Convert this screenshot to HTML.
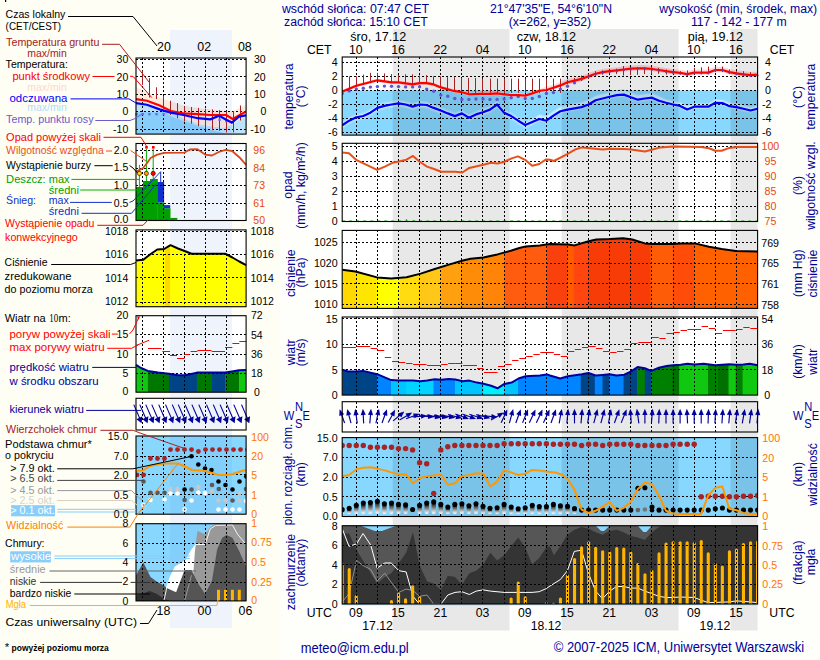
<!DOCTYPE html>
<html><head><meta charset="utf-8"><title>Meteogram</title>
<style>
html,body{margin:0;padding:0;background:#FEFEF4;}
svg{display:block;font-family:"Liberation Sans",sans-serif;}
</style></head><body>
<svg width="820" height="660" viewBox="0 0 820 660">
<rect width="820" height="660" fill="#FEFEF4"/>
<defs>
<clipPath id="cf0"><rect x="342.2" y="57.0" width="415.4" height="78.1"/></clipPath>
<clipPath id="cf1"><rect x="342.2" y="143.3" width="415.4" height="78.2"/></clipPath>
<clipPath id="cf2"><rect x="342.2" y="230.4" width="415.4" height="78.0"/></clipPath>
<clipPath id="cf3"><rect x="342.2" y="317.0" width="415.4" height="78.1"/></clipPath>
<clipPath id="cf4"><rect x="342.2" y="401.7" width="415.4" height="30.3"/></clipPath>
<clipPath id="cf5"><rect x="342.2" y="437.6" width="415.4" height="78.9"/></clipPath>
<clipPath id="cf6"><rect x="342.2" y="525.7" width="415.4" height="78.3"/></clipPath>
<linearGradient id="cbg" x1="0" y1="0" x2="0" y2="1"><stop offset="0" stop-color="#000"/><stop offset="0.35" stop-color="#555"/><stop offset="0.7" stop-color="#bbb"/><stop offset="1" stop-color="#fff"/></linearGradient>
</defs>
<rect x="280" y="0" width="540" height="660" fill="#FEFEFB"/>
<rect x="342.2" y="29" width="415.4" height="601.6" fill="#fff"/>
<rect x="342.2" y="90.4" width="415.4" height="44.7" fill="#87D7FF"/>
<rect x="342.2" y="437.6" width="415.4" height="78.9" fill="#87D7FF"/>
<polygon points="342.2,121.7 349.2,117.1 356.3,113.7 363.3,112.4 370.4,109.1 377.4,104.3 384.4,102.3 391.5,100.9 398.5,99.7 405.6,100.9 412.6,103.0 419.6,100.9 426.7,101.4 433.7,104.3 440.8,106.9 447.8,109.8 454.8,112.5 461.9,109.8 468.9,114.2 476.0,110.8 483.0,108.6 490.0,106.0 497.1,100.9 504.1,109.1 511.2,112.5 518.2,117.1 525.2,121.4 532.3,118.3 539.3,114.0 546.4,115.7 553.4,110.6 560.4,106.3 567.5,104.6 574.5,103.3 581.6,102.1 588.6,99.5 595.6,95.2 602.7,93.5 609.7,91.8 616.8,90.1 623.8,89.6 630.8,92.3 637.9,94.7 644.9,93.5 652.0,92.7 659.0,95.8 666.0,99.0 673.1,100.7 680.1,102.1 687.2,105.8 694.2,102.9 701.2,102.9 708.3,102.9 715.3,99.0 722.4,99.3 729.4,102.4 736.4,103.3 743.5,105.0 750.5,106.7 757.6,105.0 757.6,111.2 750.5,112.9 743.5,111.2 736.4,109.5 729.4,108.6 722.4,105.5 715.3,105.2 708.3,109.1 701.2,109.1 694.2,109.1 687.2,112.0 680.1,108.3 673.1,106.9 666.0,105.2 659.0,103.2 652.0,100.1 644.9,100.9 637.9,102.1 630.8,99.7 623.8,97.0 616.8,97.5 609.7,99.2 602.7,100.9 595.6,102.6 588.6,106.9 581.6,109.5 574.5,110.7 567.5,112.0 560.4,113.7 553.4,118.0 546.4,123.1 539.3,121.4 532.3,125.5 525.2,128.6 518.2,124.3 511.2,119.7 504.1,116.3 497.1,108.1 490.0,113.2 483.0,115.8 476.0,118.0 468.9,121.4 461.9,117.0 454.8,119.7 447.8,117.0 440.8,114.1 433.7,111.5 426.7,108.6 419.6,108.1 412.6,110.2 405.6,108.1 398.5,106.9 391.5,108.1 384.4,109.5 377.4,111.5 370.4,116.3 363.3,119.6 356.3,120.9 349.2,124.3 342.2,128.9" fill="#A6E0FE" clip-path="url(#cf0)"/>
<polygon points="342.2,123.1 349.2,118.5 356.3,115.1 363.3,113.8 370.4,110.5 377.4,105.7 384.4,103.7 391.5,102.3 398.5,101.1 405.6,102.3 412.6,104.4 419.6,102.3 426.7,102.8 433.7,105.7 440.8,108.3 447.8,111.2 454.8,113.9 461.9,111.2 468.9,115.6 476.0,112.2 483.0,110.0 490.0,107.4 497.1,102.3 504.1,110.5 511.2,113.9 518.2,118.5 525.2,122.8 532.3,119.7 539.3,115.0 546.4,116.7 553.4,111.6 560.4,107.3 567.5,105.6 574.5,104.3 581.6,103.1 588.6,100.5 595.6,96.2 602.7,94.5 609.7,92.8 616.8,91.1 623.8,90.6 630.8,93.3 637.9,95.7 644.9,94.5 652.0,93.7 659.0,96.8 666.0,100.0 673.1,101.7 680.1,103.1 687.2,106.8 694.2,103.9 701.2,103.9 708.3,103.9 715.3,100.0 722.4,100.3 729.4,103.4 736.4,104.3 743.5,106.0 750.5,107.7 757.6,106.0 757.6,110.4 750.5,112.1 743.5,110.4 736.4,108.7 729.4,107.8 722.4,104.7 715.3,104.4 708.3,108.3 701.2,108.3 694.2,108.3 687.2,111.2 680.1,107.5 673.1,106.1 666.0,104.4 659.0,102.4 652.0,99.3 644.9,100.1 637.9,101.3 630.8,98.9 623.8,96.2 616.8,96.7 609.7,98.4 602.7,100.1 595.6,101.8 588.6,106.1 581.6,108.7 574.5,109.9 567.5,111.2 560.4,112.9 553.4,117.2 546.4,122.3 539.3,120.6 532.3,124.1 525.2,127.2 518.2,122.9 511.2,118.3 504.1,114.9 497.1,106.7 490.0,111.8 483.0,114.4 476.0,116.6 468.9,120.0 461.9,115.6 454.8,118.3 447.8,115.6 440.8,112.7 433.7,110.1 426.7,107.2 419.6,106.7 412.6,108.8 405.6,106.7 398.5,105.5 391.5,106.7 384.4,108.1 377.4,110.1 370.4,114.9 363.3,118.2 356.3,119.5 349.2,122.9 342.2,127.5" fill="#C6ECFF" clip-path="url(#cf0)"/>
<polygon points="342.2,90.1 356.3,84.1 377.4,78.7 391.5,80.7 398.5,80.7 412.6,82.8 419.6,81.6 426.7,81.6 433.7,82.8 440.8,85.8 454.8,89.6 461.9,90.6 468.9,92.7 480.2,92.3 483.0,92.3 490.0,92.3 497.1,91.8 504.1,92.7 511.2,93.5 518.2,93.5 525.2,94.0 532.3,91.8 539.3,89.3 546.4,86.8 553.4,84.6 560.4,82.2 567.5,79.1 574.5,77.4 581.6,75.7 588.6,73.1 595.6,70.6 602.7,68.9 609.7,68.0 616.8,67.2 623.8,66.3 630.8,65.5 637.9,65.1 644.9,65.1 652.0,65.8 659.0,66.8 666.0,68.0 673.1,68.9 680.1,69.7 687.2,70.9 694.2,69.4 701.2,69.4 708.3,69.4 715.3,66.8 722.4,66.8 729.4,68.9 736.4,70.2 743.5,71.1 750.5,71.9 757.6,71.4 757.6,76.8 750.5,77.3 743.5,76.5 736.4,75.6 729.4,74.3 722.4,72.2 715.3,72.2 708.3,74.8 701.2,74.8 694.2,74.8 687.2,76.3 680.1,75.1 673.1,74.3 666.0,73.4 659.0,72.2 652.0,71.2 644.9,70.5 637.9,70.5 630.8,70.9 623.8,71.7 616.8,72.6 609.7,73.4 602.7,74.3 595.6,76.0 588.6,78.5 581.6,81.1 574.5,82.8 567.5,84.5 560.4,87.6 553.4,90.0 546.4,92.2 539.3,92.5 532.3,95.0 525.2,97.2 518.2,96.7 511.2,96.7 504.1,95.9 497.1,95.0 490.0,95.5 483.0,95.5 480.2,95.5 468.9,95.9 461.9,93.8 454.8,92.8 440.8,89.0 433.7,86.0 426.7,84.8 419.6,84.8 412.6,86.0 398.5,83.9 391.5,83.9 377.4,81.9 356.3,87.3 342.2,93.3" fill="#FFD9D9" clip-path="url(#cf0)"/>
<rect x="392.7" y="29" width="116.9" height="601.6" fill="#000" fill-opacity="0.092"/>
<rect x="561.6" y="29" width="117.0" height="601.6" fill="#000" fill-opacity="0.092"/>
<rect x="730.6" y="29" width="27.0" height="601.6" fill="#000" fill-opacity="0.092"/>
<clipPath id="cpres"><polygon points="342.2,269.7 355.4,271.5 377.1,277.4 391.2,278.4 406.6,277.2 420.7,273.6 434.8,269.0 448.9,264.6 462.9,260.5 470.6,258.7 483.4,257.4 497.5,254.4 511.6,250.5 519.3,248.0 525.7,246.4 539.7,245.4 549.9,244.1 568.0,244.6 574.5,245.4 588.6,241.3 596.3,239.5 610.4,239.0 623.1,238.2 632.2,239.5 644.9,243.4 652.7,244.1 673.1,243.9 680.8,243.4 694.9,243.4 709.0,246.7 721.7,249.0 735.7,251.0 757.6,251.6 757.6,308.4 342.2,308.4"/></clipPath>
<g clip-path="url(#cpres)">
<rect x="342.2" y="230.4" width="15.7" height="77.99999999999997" fill="#FFD800"/>
<rect x="357.4" y="230.4" width="19.7" height="77.99999999999997" fill="#FFE600"/>
<rect x="376.6" y="230.4" width="23.5" height="77.99999999999997" fill="#FFFF00"/>
<rect x="399.6" y="230.4" width="19.7" height="77.99999999999997" fill="#FFDC10"/>
<rect x="418.8" y="230.4" width="22.3" height="77.99999999999997" fill="#FFC818"/>
<rect x="440.6" y="230.4" width="20.9" height="77.99999999999997" fill="#FFA010"/>
<rect x="461.0" y="230.4" width="22.5" height="77.99999999999997" fill="#FF8C08"/>
<rect x="483.0" y="230.4" width="22.1" height="77.99999999999997" fill="#FF8408"/>
<rect x="504.6" y="230.4" width="42.9" height="77.99999999999997" fill="#FF5C10"/>
<rect x="547.0" y="230.4" width="20.9" height="77.99999999999997" fill="#FA400C"/>
<rect x="567.4" y="230.4" width="6.9" height="77.99999999999997" fill="#FF5C00"/>
<rect x="573.8" y="230.4" width="14.6" height="77.99999999999997" fill="#FF4610"/>
<rect x="587.9" y="230.4" width="63.2" height="77.99999999999997" fill="#F83C08"/>
<rect x="650.6" y="230.4" width="22.3" height="77.99999999999997" fill="#FF5C08"/>
<rect x="672.4" y="230.4" width="22.1" height="77.99999999999997" fill="#FF4C08"/>
<rect x="694.0" y="230.4" width="64.1" height="77.99999999999997" fill="#FF6000"/>
</g>
<clipPath id="cwind"><polygon points="342.2,369.8 349.0,371.6 356.6,371.6 363.0,370.9 377.1,374.2 391.2,380.1 398.9,380.6 413.0,380.6 420.7,381.3 427.1,380.6 434.8,379.3 441.2,379.8 448.8,379.0 455.2,379.6 462.9,381.3 469.3,380.6 477.0,382.6 483.4,383.7 491.1,385.7 497.5,388.3 504.4,383.9 511.6,382.6 518.5,378.5 525.7,376.2 539.8,375.5 546.9,374.4 550.0,375.5 560.3,378.5 567.9,376.2 582.0,374.2 588.4,372.9 595.6,375.5 602.5,374.9 609.4,374.2 616.6,375.5 624.3,374.7 630.7,371.6 637.6,367.0 644.8,368.3 651.2,370.9 658.9,367.8 666.5,366.0 672.9,365.2 680.6,364.7 687.5,363.7 694.7,364.4 703.7,363.7 715.2,365.2 729.3,364.2 735.7,364.7 743.4,364.4 749.8,363.7 757.7,365.2 757.6,395.1 342.2,395.1"/></clipPath>
<g clip-path="url(#cwind)">
<rect x="342.2" y="317.0" width="35.4" height="78.10000000000002" fill="#004488"/>
<rect x="377.1" y="317.0" width="14.6" height="78.10000000000002" fill="#0084FF"/>
<rect x="391.2" y="317.0" width="15.3" height="78.10000000000002" fill="#00C4FF"/>
<rect x="406.0" y="317.0" width="28.0" height="78.10000000000002" fill="#00D4FF"/>
<rect x="433.5" y="317.0" width="22.2" height="78.10000000000002" fill="#0084FF"/>
<rect x="455.2" y="317.0" width="28.7" height="78.10000000000002" fill="#00C4FF"/>
<rect x="483.4" y="317.0" width="21.0" height="78.10000000000002" fill="#00F0FF"/>
<rect x="503.9" y="317.0" width="14.6" height="78.10000000000002" fill="#00C4FF"/>
<rect x="518.0" y="317.0" width="63.2" height="78.10000000000002" fill="#0084FF"/>
<rect x="580.7" y="317.0" width="14.6" height="78.10000000000002" fill="#004488"/>
<rect x="594.8" y="317.0" width="8.2" height="78.10000000000002" fill="#0084FF"/>
<rect x="602.5" y="317.0" width="7.4" height="78.10000000000002" fill="#004488"/>
<rect x="609.4" y="317.0" width="14.6" height="78.10000000000002" fill="#0084FF"/>
<rect x="623.5" y="317.0" width="14.1" height="78.10000000000002" fill="#004488"/>
<rect x="637.1" y="317.0" width="8.2" height="78.10000000000002" fill="#008000"/>
<rect x="644.8" y="317.0" width="6.9" height="78.10000000000002" fill="#004488"/>
<rect x="651.2" y="317.0" width="21.3" height="78.10000000000002" fill="#008000"/>
<rect x="672.0" y="317.0" width="7.8" height="78.10000000000002" fill="#007000"/>
<rect x="679.3" y="317.0" width="29.2" height="78.10000000000002" fill="#10C810"/>
<rect x="708.0" y="317.0" width="10.5" height="78.10000000000002" fill="#008000"/>
<rect x="718.0" y="317.0" width="11.0" height="78.10000000000002" fill="#007000"/>
<rect x="728.5" y="317.0" width="7.7" height="78.10000000000002" fill="#10C810"/>
<rect x="735.7" y="317.0" width="7.4" height="78.10000000000002" fill="#008000"/>
<rect x="742.6" y="317.0" width="15.5" height="78.10000000000002" fill="#10C810"/>
</g>
<rect x="342.2" y="525.7" width="415.4" height="78.3" fill="#565656"/>
<polygon points="342.2,533.5 349.0,533.5 356.6,550.2 363.0,560.4 370.7,573.2 377.1,583.5 384.8,577.1 391.2,573.2 398.9,563.0 406.1,552.7 413.0,532.2 419.6,565.5 427.1,581.4 433.7,583.5 440.9,589.9 447.8,575.8 455.0,577.1 461.9,584.7 469.3,573.2 476.2,570.7 483.4,564.3 490.3,552.7 497.2,560.4 504.2,555.3 511.1,546.3 518.2,537.4 525.2,547.6 532.1,564.3 539.2,557.9 546.2,547.6 550.0,546.3 553.9,555.3 560.3,546.3 567.4,534.8 574.3,529.7 581.5,527.1 588.4,528.4 595.6,532.2 602.5,534.8 609.7,531.0 616.6,529.7 623.8,532.2 630.7,536.1 637.9,537.4 644.8,539.9 651.9,532.2 658.9,527.1 666.0,525.1 757.7,525.1 757.6,604.0 342.2,604.0" fill="#343434" clip-path="url(#cf6)"/>
<polygon points="360.8,525.7 374.9,531.1 381.9,531.1 396.0,525.7" fill="#87D7FF"/>
<polygon points="595.6,525.7 601.2,530.9 604.1,530.9 609.7,525.7" fill="#87D7FF"/>
<polygon points="637.8,525.7 643.4,532.1 646.3,532.1 651.9,525.7" fill="#87D7FF"/>
<path d="M356.5,57.0V135.1M377.5,57.0V135.1M398.5,57.0V135.1M419.5,57.0V135.1M440.5,57.0V135.1M461.5,57.0V135.1M482.5,57.0V135.1M504.5,57.0V135.1M525.5,57.0V135.1M546.5,57.0V135.1M567.5,57.0V135.1M588.5,57.0V135.1M609.5,57.0V135.1M630.5,57.0V135.1M651.5,57.0V135.1M673.5,57.0V135.1M694.5,57.0V135.1M715.5,57.0V135.1M736.5,57.0V135.1M342.2,62.5H757.6M342.2,76.5H757.6M342.2,90.5H757.6M342.2,104.5H757.6M342.2,118.5H757.6M342.2,132.5H757.6" stroke="#000" stroke-width="1" stroke-dasharray="2,2" fill="none" shape-rendering="crispEdges"/>
<path d="M356.5,143.3V221.5M377.5,143.3V221.5M398.5,143.3V221.5M419.5,143.3V221.5M440.5,143.3V221.5M461.5,143.3V221.5M482.5,143.3V221.5M504.5,143.3V221.5M525.5,143.3V221.5M546.5,143.3V221.5M567.5,143.3V221.5M588.5,143.3V221.5M609.5,143.3V221.5M630.5,143.3V221.5M651.5,143.3V221.5M673.5,143.3V221.5M694.5,143.3V221.5M715.5,143.3V221.5M736.5,143.3V221.5M342.2,146.5H757.6M342.2,161.5H757.6M342.2,176.5H757.6M342.2,191.5H757.6M342.2,206.5H757.6" stroke="#000" stroke-width="1" stroke-dasharray="2,2" fill="none" shape-rendering="crispEdges"/>
<path d="M356.5,230.4V308.4M377.5,230.4V308.4M398.5,230.4V308.4M419.5,230.4V308.4M440.5,230.4V308.4M461.5,230.4V308.4M482.5,230.4V308.4M504.5,230.4V308.4M525.5,230.4V308.4M546.5,230.4V308.4M567.5,230.4V308.4M588.5,230.4V308.4M609.5,230.4V308.4M630.5,230.4V308.4M651.5,230.4V308.4M673.5,230.4V308.4M694.5,230.4V308.4M715.5,230.4V308.4M736.5,230.4V308.4M342.2,242.5H757.6M342.2,263.5H757.6M342.2,283.5H757.6M342.2,304.5H757.6" stroke="#000" stroke-width="1" stroke-dasharray="2,2" fill="none" shape-rendering="crispEdges"/>
<path d="M356.5,317.0V395.1M377.5,317.0V395.1M398.5,317.0V395.1M419.5,317.0V395.1M440.5,317.0V395.1M461.5,317.0V395.1M482.5,317.0V395.1M504.5,317.0V395.1M525.5,317.0V395.1M546.5,317.0V395.1M567.5,317.0V395.1M588.5,317.0V395.1M609.5,317.0V395.1M630.5,317.0V395.1M651.5,317.0V395.1M673.5,317.0V395.1M694.5,317.0V395.1M715.5,317.0V395.1M736.5,317.0V395.1M342.2,318.5H757.6M342.2,344.5H757.6M342.2,369.5H757.6" stroke="#000" stroke-width="1" stroke-dasharray="2,2" fill="none" shape-rendering="crispEdges"/>
<path d="M356.5,401.7V432.0M377.5,401.7V432.0M398.5,401.7V432.0M419.5,401.7V432.0M440.5,401.7V432.0M461.5,401.7V432.0M482.5,401.7V432.0M504.5,401.7V432.0M525.5,401.7V432.0M546.5,401.7V432.0M567.5,401.7V432.0M588.5,401.7V432.0M609.5,401.7V432.0M630.5,401.7V432.0M651.5,401.7V432.0M673.5,401.7V432.0M694.5,401.7V432.0M715.5,401.7V432.0M736.5,401.7V432.0" stroke="#000" stroke-width="1" stroke-dasharray="2,2" fill="none" shape-rendering="crispEdges"/>
<path d="M356.5,437.6V516.5M377.5,437.6V516.5M398.5,437.6V516.5M419.5,437.6V516.5M440.5,437.6V516.5M461.5,437.6V516.5M482.5,437.6V516.5M504.5,437.6V516.5M525.5,437.6V516.5M546.5,437.6V516.5M567.5,437.6V516.5M588.5,437.6V516.5M609.5,437.6V516.5M630.5,437.6V516.5M651.5,437.6V516.5M673.5,437.6V516.5M694.5,437.6V516.5M715.5,437.6V516.5M736.5,437.6V516.5M342.2,457.5H757.6M342.2,477.5H757.6M342.2,496.5H757.6" stroke="#000" stroke-width="1" stroke-dasharray="2,2" fill="none" shape-rendering="crispEdges"/>
<path d="M356.5,525.7V604.0M377.5,525.7V604.0M398.5,525.7V604.0M419.5,525.7V604.0M440.5,525.7V604.0M461.5,525.7V604.0M482.5,525.7V604.0M504.5,525.7V604.0M525.5,525.7V604.0M546.5,525.7V604.0M567.5,525.7V604.0M588.5,525.7V604.0M609.5,525.7V604.0M630.5,525.7V604.0M651.5,525.7V604.0M673.5,525.7V604.0M694.5,525.7V604.0M715.5,525.7V604.0M736.5,525.7V604.0M342.2,545.5H757.6M342.2,564.5H757.6M342.2,584.5H757.6" stroke="#000" stroke-width="1" stroke-dasharray="2,2" fill="none" shape-rendering="crispEdges"/>
<path d="M349.5,76.3V91.7M356.5,76.3V87.4M363.5,74.6V84.9M370.5,72.9V83.2M377.5,72.9V80.6M384.5,73.4V81.5M391.5,74.1V82.3M398.5,75.1V82.3M405.5,74.3V83.2M412.5,74.3V84.4M419.5,75.5V83.7M426.5,75.1V83.2M433.5,76.3V84.4M440.5,76.3V87.4M447.5,77.2V89.1M454.5,77.2V91.2M461.5,78.0V92.2M468.5,78.0V93.9M475.5,78.0V93.9M567.5,79.8V84.4M574.5,78.0V83.2M581.5,75.5V81.0M588.5,73.8V78.6M595.5,71.2V76.3M602.5,70.4V74.6M609.5,69.5V73.8M616.5,68.7V74.1M623.5,66.1V75.5M630.5,67.0V75.1M637.5,67.0V74.8M644.5,67.0V74.1M651.5,67.0V73.8M658.5,67.8V73.8M666.5,69.5V74.6M673.5,70.4V74.1M680.5,71.2V74.5M687.5,70.4V75.5M694.5,67.8V74.1M701.5,67.3V74.1M708.5,66.6V73.8M715.5,66.1V72.1M722.5,66.6V72.1M729.5,69.5V74.1M736.5,71.2V75.1M743.5,71.2V75.8M750.5,72.1V76.5M482.5,78.6V92.9M490.5,78.6V92.9M497.5,78.6V92.9M504.5,78.6V92.9M511.5,78.6V92.9M518.5,78.6V92.9M525.5,78.6V92.9M532.5,78.6V92.9M539.5,78.6V92.9M546.5,78.6V92.9M553.5,78.6V92.9M560.5,78.6V92.9" stroke="#A82020" stroke-width="1" fill="none"/>
<g fill="#6254D2" clip-path="url(#cf0)">
<circle cx="342.2" cy="93.4" r="1.7"/>
<circle cx="349.2" cy="90.9" r="1.7"/>
<circle cx="356.3" cy="89.1" r="1.7"/>
<circle cx="363.3" cy="88.3" r="1.7"/>
<circle cx="370.4" cy="87.1" r="1.7"/>
<circle cx="377.4" cy="86.6" r="1.7"/>
<circle cx="384.4" cy="86.1" r="1.7"/>
<circle cx="391.5" cy="86.2" r="1.7"/>
<circle cx="398.5" cy="86.6" r="1.7"/>
<circle cx="405.6" cy="86.9" r="1.7"/>
<circle cx="412.6" cy="86.9" r="1.7"/>
<circle cx="419.6" cy="86.8" r="1.7"/>
<circle cx="426.7" cy="89.1" r="1.7"/>
<circle cx="433.7" cy="91.2" r="1.7"/>
<circle cx="440.8" cy="95.1" r="1.7"/>
<circle cx="447.8" cy="96.3" r="1.7"/>
<circle cx="454.8" cy="98.5" r="1.7"/>
<circle cx="461.9" cy="99.4" r="1.7"/>
<circle cx="468.9" cy="99.4" r="1.7"/>
<circle cx="476.0" cy="99.0" r="1.7"/>
<circle cx="483.0" cy="99.0" r="1.7"/>
<circle cx="490.0" cy="99.4" r="1.7"/>
<circle cx="497.1" cy="99.4" r="1.7"/>
<circle cx="504.1" cy="99.0" r="1.7"/>
<circle cx="511.2" cy="97.7" r="1.7"/>
<circle cx="518.2" cy="96.5" r="1.7"/>
<circle cx="525.2" cy="98.5" r="1.7"/>
<circle cx="532.3" cy="98.5" r="1.7"/>
<circle cx="539.3" cy="96.5" r="1.7"/>
<circle cx="546.4" cy="93.4" r="1.7"/>
<circle cx="553.4" cy="92.6" r="1.7"/>
<circle cx="560.4" cy="89.1" r="1.7"/>
<circle cx="567.5" cy="86.2" r="1.7"/>
<circle cx="574.5" cy="82.7" r="1.7"/>
</g>
<polyline points="342.2,91.7 356.3,85.7 377.4,80.3 391.5,82.3 398.5,82.3 412.6,84.4 419.6,83.2 426.7,83.2 433.7,84.4 440.8,87.4 454.8,91.2 461.9,92.2 468.9,94.3 480.2,93.9 483.0,93.9 490.0,93.9 497.1,93.4 504.1,94.3 511.2,95.1 518.2,95.1 525.2,95.6 532.3,93.4 539.3,90.9 546.4,90.0 553.4,87.8 560.4,85.4 567.5,82.3 574.5,80.6 581.6,78.9 588.6,76.3 595.6,73.8 602.7,72.1 609.7,71.2 616.8,70.4 623.8,69.5 630.8,68.7 637.9,68.3 644.9,68.3 652.0,69.0 659.0,70.0 666.0,71.2 673.1,72.1 680.1,72.9 687.2,74.1 694.2,72.6 701.2,72.6 708.3,72.6 715.3,70.0 722.4,70.0 729.4,72.1 736.4,73.4 743.5,74.3 750.5,75.1 757.6,74.6" stroke="#FF0000" stroke-width="2.2" fill="none" stroke-linejoin="round" clip-path="url(#cf0)"/>
<g fill="#5B3FC0">
<circle cx="581.6" cy="79.7" r="1.0"/>
<circle cx="588.6" cy="77.1" r="1.0"/>
<circle cx="595.6" cy="74.6" r="1.0"/>
<circle cx="602.7" cy="72.9" r="1.0"/>
<circle cx="609.7" cy="72.0" r="1.0"/>
<circle cx="616.8" cy="71.2" r="1.0"/>
<circle cx="623.8" cy="70.3" r="1.0"/>
<circle cx="630.8" cy="69.5" r="1.0"/>
<circle cx="637.9" cy="69.1" r="1.0"/>
<circle cx="644.9" cy="69.1" r="1.0"/>
<circle cx="652.0" cy="69.8" r="1.0"/>
<circle cx="659.0" cy="70.8" r="1.0"/>
<circle cx="666.0" cy="72.0" r="1.0"/>
<circle cx="673.1" cy="72.9" r="1.0"/>
<circle cx="680.1" cy="73.7" r="1.0"/>
<circle cx="687.2" cy="74.9" r="1.0"/>
<circle cx="694.2" cy="73.4" r="1.0"/>
<circle cx="701.2" cy="73.4" r="1.0"/>
<circle cx="708.3" cy="73.4" r="1.0"/>
<circle cx="715.3" cy="70.8" r="1.0"/>
<circle cx="722.4" cy="70.8" r="1.0"/>
<circle cx="729.4" cy="72.9" r="1.0"/>
<circle cx="736.4" cy="74.2" r="1.0"/>
<circle cx="743.5" cy="75.1" r="1.0"/>
<circle cx="750.5" cy="75.9" r="1.0"/>
<circle cx="757.6" cy="75.4" r="1.0"/>
</g>
<polyline points="342.2,125.3 349.2,120.7 356.3,117.3 363.3,116.0 370.4,112.7 377.4,107.9 384.4,105.9 391.5,104.5 398.5,103.3 405.6,104.5 412.6,106.6 419.6,104.5 426.7,105.0 433.7,107.9 440.8,110.5 447.8,113.4 454.8,116.1 461.9,113.4 468.9,117.8 476.0,114.4 483.0,112.2 490.0,109.6 497.1,104.5 504.1,112.7 511.2,116.1 518.2,120.7 525.2,125.0 532.3,121.9 539.3,119.0 546.4,120.7 553.4,115.6 560.4,111.3 567.5,109.6 574.5,108.3 581.6,107.1 588.6,104.5 595.6,100.2 602.7,98.5 609.7,96.8 616.8,95.1 623.8,94.6 630.8,97.3 637.9,99.7 644.9,98.5 652.0,97.7 659.0,100.8 666.0,102.8 673.1,104.5 680.1,105.9 687.2,109.6 694.2,106.7 701.2,106.7 708.3,106.7 715.3,102.8 722.4,103.1 729.4,106.2 736.4,107.1 743.5,108.8 750.5,110.5 757.6,108.8" stroke="#0000FF" stroke-width="2.2" fill="none" stroke-linejoin="round" clip-path="url(#cf0)"/>
<polyline points="342.6,152.5 349.0,153.3 356.6,160.2 377.1,169.9 384.8,166.6 392.5,162.8 398.9,161.5 406.5,159.7 413.0,155.9 419.4,161.5 427.0,166.6 433.4,168.7 441.2,171.7 455.3,171.7 462.4,172.5 469.3,167.9 483.4,164.8 491.1,162.8 497.5,163.5 503.9,162.0 511.6,158.4 518.0,156.4 525.7,160.2 532.1,165.8 539.2,164.0 546.1,159.4 550.0,159.7 553.9,161.0 566.8,154.3 575.9,149.2 582.3,147.4 602.7,149.5 610.4,148.7 624.5,148.9 630.8,149.5 644.9,151.5 652.7,149.5 660.4,147.4 673.1,146.6 701.2,146.9 709.0,148.2 715.3,150.7 721.7,150.7 729.4,147.9 737.1,147.1 757.6,147.1" stroke="#E8501A" stroke-width="2" fill="none" stroke-linejoin="round" clip-path="url(#cf1)"/>
<path d="M342.2,220.9H757.6" stroke="#0A0" stroke-width="0.8" stroke-dasharray="3,4" fill="none"/>
<path d="M406.5,221.5v-2.5M414,221.5v-1.5" stroke="#0A0" stroke-width="0.8" fill="none"/>
<polyline points="342.2,269.7 355.4,271.5 377.1,277.4 391.2,278.4 406.6,277.2 420.7,273.6 434.8,269.0 448.9,264.6 462.9,260.5 470.6,258.7 483.4,257.4 497.5,254.4 511.6,250.5 519.3,248.0 525.7,246.4 539.7,245.4 549.9,244.1 568.0,244.6 574.5,245.4 588.6,241.3 596.3,239.5 610.4,239.0 623.1,238.2 632.2,239.5 644.9,243.4 652.7,244.1 673.1,243.9 680.8,243.4 694.9,243.4 709.0,246.7 721.7,249.0 735.7,251.0 757.6,251.6" stroke="#000" stroke-width="2" fill="none" stroke-linejoin="round" clip-path="url(#cf2)"/>
<path d="M342.6,347.5H355.9M356.6,346.5H370.2M370.7,348.5H377.1M377.6,350.5H384.3M384.8,357.5H391.2M392.0,361.5H398.4M398.9,362.5H405.3M406.1,363.5H412.5M413.0,364.5H426.6M427.1,365.5H441.2M441.2,364.5H447.6M448.1,363.5H455.2M455.2,363.5H462.4M462.9,365.5H477.0M477.0,368.5H483.4M483.9,372.5H497.5M498.0,366.5H504.4M505.2,364.5H511.6M512.1,360.5H518.5M519.3,358.5H525.7M526.2,356.5H532.6M533.3,354.5H539.7M540.3,352.5H550.0M550.0,352.5H553.8M553.8,354.5H560.2M560.8,356.5H567.4M567.9,351.5H574.3M574.8,349.5H581.2M582.0,347.5H588.4M588.9,346.5H595.6M596.1,348.5H602.5M603.0,351.5H609.4M610.2,352.5H616.6M617.1,351.5H623.5M624.3,349.5H630.7M631.2,343.5H637.6M638.3,342.5H651.2M651.7,337.5H658.8M659.3,338.5H665.7M666.5,333.5H672.9M673.4,332.5H679.8M680.6,330.5H687.0M687.5,329.5H701.1M701.6,326.5H708.0M708.8,328.5H715.2M715.7,333.5H722.1M722.9,330.5H735.7M736.2,329.5H742.6M743.3,327.5H749.7M750.3,328.5H757.4" stroke="#FF0000" stroke-width="1" fill="none" clip-path="url(#cf3)"/>
<polyline points="342.2,369.8 349.0,371.6 356.6,371.6 363.0,370.9 377.1,374.2 391.2,380.1 398.9,380.6 413.0,380.6 420.7,381.3 427.1,380.6 434.8,379.3 441.2,379.8 448.8,379.0 455.2,379.6 462.9,381.3 469.3,380.6 477.0,382.6 483.4,383.7 491.1,385.7 497.5,388.3 504.4,383.9 511.6,382.6 518.5,378.5 525.7,376.2 539.8,375.5 546.9,374.4 550.0,375.5 560.3,378.5 567.9,376.2 582.0,374.2 588.4,372.9 595.6,375.5 602.5,374.9 609.4,374.2 616.6,375.5 624.3,374.7 630.7,371.6 637.6,367.0 644.8,368.3 651.2,370.9 658.9,367.8 666.5,366.0 672.9,365.2 680.6,364.7 687.5,363.7 694.7,364.4 703.7,363.7 715.2,365.2 729.3,364.2 735.7,364.7 743.4,364.4 749.8,363.7 757.7,365.2" stroke="#00009C" stroke-width="2" fill="none" stroke-linejoin="round" clip-path="url(#cf3)"/>
<g fill="#00009C" stroke="#00009C">
<g transform="translate(342.2,416.4) rotate(-20)"><path d="M0,7V-2.5" stroke-width="1.15" fill="none"/><path d="M0,-7.6L2.6,-1.4L-2.6,-1.4Z" stroke="none"/></g>
<g transform="translate(349.2,416.4) rotate(-15)"><path d="M0,7V-2.5" stroke-width="1.15" fill="none"/><path d="M0,-7.6L2.6,-1.4L-2.6,-1.4Z" stroke="none"/></g>
<g transform="translate(356.3,416.4) rotate(-8)"><path d="M0,7V-2.5" stroke-width="1.15" fill="none"/><path d="M0,-7.6L2.6,-1.4L-2.6,-1.4Z" stroke="none"/></g>
<g transform="translate(363.3,416.4) rotate(-3)"><path d="M0,7V-2.5" stroke-width="1.15" fill="none"/><path d="M0,-7.6L2.6,-1.4L-2.6,-1.4Z" stroke="none"/></g>
<g transform="translate(370.4,416.4) rotate(5)"><path d="M0,7V-2.5" stroke-width="1.15" fill="none"/><path d="M0,-7.6L2.6,-1.4L-2.6,-1.4Z" stroke="none"/></g>
<g transform="translate(377.4,416.4) rotate(12)"><path d="M0,7V-2.5" stroke-width="1.15" fill="none"/><path d="M0,-7.6L2.6,-1.4L-2.6,-1.4Z" stroke="none"/></g>
<g transform="translate(384.4,416.4) rotate(20)"><path d="M0,7V-2.5" stroke-width="1.15" fill="none"/><path d="M0,-7.6L2.6,-1.4L-2.6,-1.4Z" stroke="none"/></g>
<g transform="translate(391.5,416.4) rotate(28)"><path d="M0,7V-2.5" stroke-width="1.15" fill="none"/><path d="M0,-7.6L2.6,-1.4L-2.6,-1.4Z" stroke="none"/></g>
<g transform="translate(398.5,416.4) rotate(50)"><path d="M0,7V-2.5" stroke-width="1.15" fill="none"/><path d="M0,-7.6L2.6,-1.4L-2.6,-1.4Z" stroke="none"/></g>
<g transform="translate(405.6,416.4) rotate(60)"><path d="M0,7V-2.5" stroke-width="1.15" fill="none"/><path d="M0,-7.6L2.6,-1.4L-2.6,-1.4Z" stroke="none"/></g>
<g transform="translate(412.6,416.4) rotate(70)"><path d="M0,7V-2.5" stroke-width="1.15" fill="none"/><path d="M0,-7.6L2.6,-1.4L-2.6,-1.4Z" stroke="none"/></g>
<g transform="translate(419.6,416.4) rotate(85)"><path d="M0,7V-2.5" stroke-width="1.15" fill="none"/><path d="M0,-7.6L2.6,-1.4L-2.6,-1.4Z" stroke="none"/></g>
<g transform="translate(426.7,416.4) rotate(95)"><path d="M0,7V-2.5" stroke-width="1.15" fill="none"/><path d="M0,-7.6L2.6,-1.4L-2.6,-1.4Z" stroke="none"/></g>
<g transform="translate(433.7,416.4) rotate(100)"><path d="M0,7V-2.5" stroke-width="1.15" fill="none"/><path d="M0,-7.6L2.6,-1.4L-2.6,-1.4Z" stroke="none"/></g>
<g transform="translate(440.8,416.4) rotate(100)"><path d="M0,7V-2.5" stroke-width="1.15" fill="none"/><path d="M0,-7.6L2.6,-1.4L-2.6,-1.4Z" stroke="none"/></g>
<g transform="translate(447.8,416.4) rotate(100)"><path d="M0,7V-2.5" stroke-width="1.15" fill="none"/><path d="M0,-7.6L2.6,-1.4L-2.6,-1.4Z" stroke="none"/></g>
<g transform="translate(454.8,416.4) rotate(105)"><path d="M0,7V-2.5" stroke-width="1.15" fill="none"/><path d="M0,-7.6L2.6,-1.4L-2.6,-1.4Z" stroke="none"/></g>
<g transform="translate(461.9,416.4) rotate(110)"><path d="M0,7V-2.5" stroke-width="1.15" fill="none"/><path d="M0,-7.6L2.6,-1.4L-2.6,-1.4Z" stroke="none"/></g>
<g transform="translate(468.9,416.4) rotate(110)"><path d="M0,7V-2.5" stroke-width="1.15" fill="none"/><path d="M0,-7.6L2.6,-1.4L-2.6,-1.4Z" stroke="none"/></g>
<g transform="translate(476.0,416.4) rotate(108)"><path d="M0,7V-2.5" stroke-width="1.15" fill="none"/><path d="M0,-7.6L2.6,-1.4L-2.6,-1.4Z" stroke="none"/></g>
<g transform="translate(483.0,416.4) rotate(105)"><path d="M0,7V-2.5" stroke-width="1.15" fill="none"/><path d="M0,-7.6L2.6,-1.4L-2.6,-1.4Z" stroke="none"/></g>
<g transform="translate(490.0,416.4) rotate(95)"><path d="M0,7V-2.5" stroke-width="1.15" fill="none"/><path d="M0,-7.6L2.6,-1.4L-2.6,-1.4Z" stroke="none"/></g>
<g transform="translate(497.1,416.4) rotate(60)"><path d="M0,7V-2.5" stroke-width="1.15" fill="none"/><path d="M0,-7.6L2.6,-1.4L-2.6,-1.4Z" stroke="none"/></g>
<g transform="translate(504.1,416.4) rotate(25)"><path d="M0,7V-2.5" stroke-width="1.15" fill="none"/><path d="M0,-7.6L2.6,-1.4L-2.6,-1.4Z" stroke="none"/></g>
<g transform="translate(511.2,416.4) rotate(15)"><path d="M0,7V-2.5" stroke-width="1.15" fill="none"/><path d="M0,-7.6L2.6,-1.4L-2.6,-1.4Z" stroke="none"/></g>
<g transform="translate(518.2,416.4) rotate(20)"><path d="M0,7V-2.5" stroke-width="1.15" fill="none"/><path d="M0,-7.6L2.6,-1.4L-2.6,-1.4Z" stroke="none"/></g>
<g transform="translate(525.2,416.4) rotate(22)"><path d="M0,7V-2.5" stroke-width="1.15" fill="none"/><path d="M0,-7.6L2.6,-1.4L-2.6,-1.4Z" stroke="none"/></g>
<g transform="translate(532.3,416.4) rotate(25)"><path d="M0,7V-2.5" stroke-width="1.15" fill="none"/><path d="M0,-7.6L2.6,-1.4L-2.6,-1.4Z" stroke="none"/></g>
<g transform="translate(539.3,416.4) rotate(25)"><path d="M0,7V-2.5" stroke-width="1.15" fill="none"/><path d="M0,-7.6L2.6,-1.4L-2.6,-1.4Z" stroke="none"/></g>
<g transform="translate(546.4,416.4) rotate(25)"><path d="M0,7V-2.5" stroke-width="1.15" fill="none"/><path d="M0,-7.6L2.6,-1.4L-2.6,-1.4Z" stroke="none"/></g>
<g transform="translate(553.4,416.4) rotate(20)"><path d="M0,7V-2.5" stroke-width="1.15" fill="none"/><path d="M0,-7.6L2.6,-1.4L-2.6,-1.4Z" stroke="none"/></g>
<g transform="translate(560.4,416.4) rotate(10)"><path d="M0,7V-2.5" stroke-width="1.15" fill="none"/><path d="M0,-7.6L2.6,-1.4L-2.6,-1.4Z" stroke="none"/></g>
<g transform="translate(567.5,416.4) rotate(5)"><path d="M0,7V-2.5" stroke-width="1.15" fill="none"/><path d="M0,-7.6L2.6,-1.4L-2.6,-1.4Z" stroke="none"/></g>
<g transform="translate(574.5,416.4) rotate(0)"><path d="M0,7V-2.5" stroke-width="1.15" fill="none"/><path d="M0,-7.6L2.6,-1.4L-2.6,-1.4Z" stroke="none"/></g>
<g transform="translate(581.6,416.4) rotate(5)"><path d="M0,7V-2.5" stroke-width="1.15" fill="none"/><path d="M0,-7.6L2.6,-1.4L-2.6,-1.4Z" stroke="none"/></g>
<g transform="translate(588.6,416.4) rotate(8)"><path d="M0,7V-2.5" stroke-width="1.15" fill="none"/><path d="M0,-7.6L2.6,-1.4L-2.6,-1.4Z" stroke="none"/></g>
<g transform="translate(595.6,416.4) rotate(15)"><path d="M0,7V-2.5" stroke-width="1.15" fill="none"/><path d="M0,-7.6L2.6,-1.4L-2.6,-1.4Z" stroke="none"/></g>
<g transform="translate(602.7,416.4) rotate(15)"><path d="M0,7V-2.5" stroke-width="1.15" fill="none"/><path d="M0,-7.6L2.6,-1.4L-2.6,-1.4Z" stroke="none"/></g>
<g transform="translate(609.7,416.4) rotate(10)"><path d="M0,7V-2.5" stroke-width="1.15" fill="none"/><path d="M0,-7.6L2.6,-1.4L-2.6,-1.4Z" stroke="none"/></g>
<g transform="translate(616.8,416.4) rotate(20)"><path d="M0,7V-2.5" stroke-width="1.15" fill="none"/><path d="M0,-7.6L2.6,-1.4L-2.6,-1.4Z" stroke="none"/></g>
<g transform="translate(623.8,416.4) rotate(22)"><path d="M0,7V-2.5" stroke-width="1.15" fill="none"/><path d="M0,-7.6L2.6,-1.4L-2.6,-1.4Z" stroke="none"/></g>
<g transform="translate(630.8,416.4) rotate(-4)"><path d="M0,7V-2.5" stroke-width="1.15" fill="none"/><path d="M0,-7.6L2.6,-1.4L-2.6,-1.4Z" stroke="none"/></g>
<g transform="translate(637.9,416.4) rotate(-8)"><path d="M0,7V-2.5" stroke-width="1.15" fill="none"/><path d="M0,-7.6L2.6,-1.4L-2.6,-1.4Z" stroke="none"/></g>
<g transform="translate(644.9,416.4) rotate(0)"><path d="M0,7V-2.5" stroke-width="1.15" fill="none"/><path d="M0,-7.6L2.6,-1.4L-2.6,-1.4Z" stroke="none"/></g>
<g transform="translate(652.0,416.4) rotate(5)"><path d="M0,7V-2.5" stroke-width="1.15" fill="none"/><path d="M0,-7.6L2.6,-1.4L-2.6,-1.4Z" stroke="none"/></g>
<g transform="translate(659.0,416.4) rotate(2)"><path d="M0,7V-2.5" stroke-width="1.15" fill="none"/><path d="M0,-7.6L2.6,-1.4L-2.6,-1.4Z" stroke="none"/></g>
<g transform="translate(666.0,416.4) rotate(0)"><path d="M0,7V-2.5" stroke-width="1.15" fill="none"/><path d="M0,-7.6L2.6,-1.4L-2.6,-1.4Z" stroke="none"/></g>
<g transform="translate(673.1,416.4) rotate(0)"><path d="M0,7V-2.5" stroke-width="1.15" fill="none"/><path d="M0,-7.6L2.6,-1.4L-2.6,-1.4Z" stroke="none"/></g>
<g transform="translate(680.1,416.4) rotate(0)"><path d="M0,7V-2.5" stroke-width="1.15" fill="none"/><path d="M0,-7.6L2.6,-1.4L-2.6,-1.4Z" stroke="none"/></g>
<g transform="translate(687.2,416.4) rotate(-3)"><path d="M0,7V-2.5" stroke-width="1.15" fill="none"/><path d="M0,-7.6L2.6,-1.4L-2.6,-1.4Z" stroke="none"/></g>
<g transform="translate(694.2,416.4) rotate(0)"><path d="M0,7V-2.5" stroke-width="1.15" fill="none"/><path d="M0,-7.6L2.6,-1.4L-2.6,-1.4Z" stroke="none"/></g>
<g transform="translate(701.2,416.4) rotate(0)"><path d="M0,7V-2.5" stroke-width="1.15" fill="none"/><path d="M0,-7.6L2.6,-1.4L-2.6,-1.4Z" stroke="none"/></g>
<g transform="translate(708.3,416.4) rotate(2)"><path d="M0,7V-2.5" stroke-width="1.15" fill="none"/><path d="M0,-7.6L2.6,-1.4L-2.6,-1.4Z" stroke="none"/></g>
<g transform="translate(715.3,416.4) rotate(3)"><path d="M0,7V-2.5" stroke-width="1.15" fill="none"/><path d="M0,-7.6L2.6,-1.4L-2.6,-1.4Z" stroke="none"/></g>
<g transform="translate(722.4,416.4) rotate(4)"><path d="M0,7V-2.5" stroke-width="1.15" fill="none"/><path d="M0,-7.6L2.6,-1.4L-2.6,-1.4Z" stroke="none"/></g>
<g transform="translate(729.4,416.4) rotate(5)"><path d="M0,7V-2.5" stroke-width="1.15" fill="none"/><path d="M0,-7.6L2.6,-1.4L-2.6,-1.4Z" stroke="none"/></g>
<g transform="translate(736.4,416.4) rotate(8)"><path d="M0,7V-2.5" stroke-width="1.15" fill="none"/><path d="M0,-7.6L2.6,-1.4L-2.6,-1.4Z" stroke="none"/></g>
<g transform="translate(743.5,416.4) rotate(10)"><path d="M0,7V-2.5" stroke-width="1.15" fill="none"/><path d="M0,-7.6L2.6,-1.4L-2.6,-1.4Z" stroke="none"/></g>
<g transform="translate(750.5,416.4) rotate(8)"><path d="M0,7V-2.5" stroke-width="1.15" fill="none"/><path d="M0,-7.6L2.6,-1.4L-2.6,-1.4Z" stroke="none"/></g>
<g transform="translate(757.6,416.4) rotate(5)"><path d="M0,7V-2.5" stroke-width="1.15" fill="none"/><path d="M0,-7.6L2.6,-1.4L-2.6,-1.4Z" stroke="none"/></g>
</g>
<g clip-path="url(#cf5)">
<rect x="340.0" y="509.5" width="4.4" height="4.4" rx="2.2" fill="url(#cbg)"/>
<rect x="347.0" y="508.3" width="4.4" height="5.6" rx="2.2" fill="url(#cbg)"/>
<rect x="354.1" y="505.2" width="4.4" height="8.7" rx="2.2" fill="url(#cbg)"/>
<rect x="361.1" y="503.1" width="4.4" height="10.8" rx="2.2" fill="url(#cbg)"/>
<rect x="368.2" y="502.6" width="4.4" height="11.3" rx="2.2" fill="url(#cbg)"/>
<rect x="375.2" y="501.3" width="4.4" height="12.5" rx="2.2" fill="url(#cbg)"/>
<rect x="382.2" y="503.7" width="4.4" height="10.2" rx="2.2" fill="url(#cbg)"/>
<rect x="389.3" y="503.1" width="4.4" height="10.8" rx="2.2" fill="url(#cbg)"/>
<rect x="396.3" y="504.4" width="4.4" height="9.5" rx="2.2" fill="url(#cbg)"/>
<rect x="403.4" y="504.9" width="4.4" height="9.0" rx="2.2" fill="url(#cbg)"/>
<rect x="417.4" y="505.2" width="4.4" height="8.7" rx="2.2" fill="url(#cbg)"/>
<rect x="424.5" y="503.1" width="4.4" height="10.8" rx="2.2" fill="url(#cbg)"/>
<rect x="431.5" y="501.9" width="4.4" height="12.0" rx="2.2" fill="url(#cbg)"/>
<rect x="438.6" y="504.4" width="4.4" height="9.5" rx="2.2" fill="url(#cbg)"/>
<rect x="445.6" y="507.0" width="4.4" height="6.9" rx="2.2" fill="url(#cbg)"/>
<rect x="452.6" y="504.4" width="4.4" height="9.5" rx="2.2" fill="url(#cbg)"/>
<rect x="459.7" y="503.7" width="4.4" height="10.2" rx="2.2" fill="url(#cbg)"/>
<rect x="466.7" y="505.7" width="4.4" height="8.2" rx="2.2" fill="url(#cbg)"/>
<rect x="473.8" y="503.7" width="4.4" height="10.2" rx="2.2" fill="url(#cbg)"/>
<rect x="480.8" y="506.2" width="4.4" height="7.7" rx="2.2" fill="url(#cbg)"/>
<rect x="487.8" y="508.3" width="4.4" height="5.6" rx="2.2" fill="url(#cbg)"/>
<rect x="494.9" y="507.8" width="4.4" height="6.1" rx="2.2" fill="url(#cbg)"/>
<rect x="501.9" y="504.4" width="4.4" height="9.5" rx="2.2" fill="url(#cbg)"/>
<rect x="509.0" y="507.0" width="4.4" height="6.9" rx="2.2" fill="url(#cbg)"/>
<rect x="516.0" y="508.8" width="4.4" height="5.1" rx="2.2" fill="url(#cbg)"/>
<rect x="523.0" y="507.8" width="4.4" height="6.1" rx="2.2" fill="url(#cbg)"/>
<rect x="530.1" y="505.2" width="4.4" height="8.7" rx="2.2" fill="url(#cbg)"/>
<rect x="537.1" y="506.5" width="4.4" height="7.4" rx="2.2" fill="url(#cbg)"/>
<rect x="544.2" y="506.5" width="4.4" height="7.4" rx="2.2" fill="url(#cbg)"/>
<rect x="551.2" y="504.4" width="4.4" height="9.5" rx="2.2" fill="url(#cbg)"/>
<rect x="558.2" y="505.7" width="4.4" height="8.2" rx="2.2" fill="url(#cbg)"/>
<rect x="565.3" y="506.2" width="4.4" height="7.7" rx="2.2" fill="url(#cbg)"/>
<rect x="572.3" y="508.5" width="4.4" height="5.4" rx="2.2" fill="url(#cbg)"/>
<g fill="#000">
<circle cx="342.2" cy="509.5" r="2.55"/>
<circle cx="349.2" cy="508.3" r="2.55"/>
<circle cx="356.3" cy="505.2" r="2.55"/>
<circle cx="363.3" cy="503.1" r="2.55"/>
<circle cx="370.4" cy="502.6" r="2.55"/>
<circle cx="377.4" cy="501.3" r="2.55"/>
<circle cx="384.4" cy="503.7" r="2.55"/>
<circle cx="391.5" cy="503.1" r="2.55"/>
<circle cx="398.5" cy="504.4" r="2.55"/>
<circle cx="405.6" cy="504.9" r="2.55"/>
<circle cx="419.6" cy="505.2" r="2.55"/>
<circle cx="426.7" cy="503.1" r="2.55"/>
<circle cx="433.7" cy="501.9" r="2.55"/>
<circle cx="440.8" cy="504.4" r="2.55"/>
<circle cx="447.8" cy="507.0" r="2.55"/>
<circle cx="454.8" cy="504.4" r="2.55"/>
<circle cx="461.9" cy="503.7" r="2.55"/>
<circle cx="468.9" cy="505.7" r="2.55"/>
<circle cx="476.0" cy="503.7" r="2.55"/>
<circle cx="483.0" cy="506.2" r="2.55"/>
<circle cx="490.0" cy="508.3" r="2.55"/>
<circle cx="497.1" cy="507.8" r="2.55"/>
<circle cx="504.1" cy="504.4" r="2.55"/>
<circle cx="511.2" cy="507.0" r="2.55"/>
<circle cx="518.2" cy="508.8" r="2.55"/>
<circle cx="525.2" cy="507.8" r="2.55"/>
<circle cx="532.3" cy="505.2" r="2.55"/>
<circle cx="539.3" cy="506.5" r="2.55"/>
<circle cx="546.4" cy="506.5" r="2.55"/>
<circle cx="553.4" cy="504.4" r="2.55"/>
<circle cx="560.4" cy="505.7" r="2.55"/>
<circle cx="567.5" cy="506.2" r="2.55"/>
<circle cx="574.5" cy="508.5" r="2.55"/>
<circle cx="412.6" cy="509.5" r="2.55"/>
<circle cx="637.9" cy="488.3" r="2.55"/>
<circle cx="644.9" cy="487.8" r="2.55"/>
<circle cx="652.0" cy="507.0" r="2.55"/>
<circle cx="715.3" cy="508.8" r="2.55"/>
<circle cx="722.4" cy="508.0" r="2.55"/>
<circle cx="581.6" cy="510.1" r="2.55"/>
<circle cx="588.6" cy="510.1" r="2.55"/>
<circle cx="595.6" cy="510.1" r="2.55"/>
<circle cx="602.7" cy="510.1" r="2.55"/>
<circle cx="609.7" cy="510.1" r="2.55"/>
<circle cx="616.8" cy="510.1" r="2.55"/>
<circle cx="623.8" cy="510.1" r="2.55"/>
<circle cx="630.8" cy="510.1" r="2.55"/>
<circle cx="659.0" cy="510.1" r="2.55"/>
<circle cx="666.0" cy="510.1" r="2.55"/>
<circle cx="673.1" cy="510.1" r="2.55"/>
<circle cx="680.1" cy="510.1" r="2.55"/>
<circle cx="687.2" cy="510.1" r="2.55"/>
<circle cx="694.2" cy="510.1" r="2.55"/>
<circle cx="701.2" cy="510.1" r="2.55"/>
<circle cx="708.3" cy="510.1" r="2.55"/>
<circle cx="729.4" cy="510.1" r="2.55"/>
<circle cx="736.4" cy="510.1" r="2.55"/>
<circle cx="743.5" cy="510.1" r="2.55"/>
<circle cx="750.5" cy="510.1" r="2.55"/>
<circle cx="757.6" cy="510.1" r="2.55"/>
</g>
<circle cx="637.9" cy="510.1" r="2.3" fill="#666"/><circle cx="644.9" cy="509.5" r="2.3" fill="#777"/><circle cx="652.0" cy="510.3" r="2.3" fill="#000"/>
<g fill="#A82424">
<circle cx="342.2" cy="445.5" r="2.7"/>
<circle cx="349.2" cy="445.5" r="2.7"/>
<circle cx="356.3" cy="445.5" r="2.7"/>
<circle cx="363.3" cy="445.5" r="2.7"/>
<circle cx="370.4" cy="447.3" r="2.7"/>
<circle cx="377.4" cy="447.3" r="2.7"/>
<circle cx="384.4" cy="447.3" r="2.7"/>
<circle cx="391.5" cy="447.3" r="2.7"/>
<circle cx="398.5" cy="448.6" r="2.7"/>
<circle cx="405.6" cy="448.6" r="2.7"/>
<circle cx="412.6" cy="449.9" r="2.7"/>
<circle cx="419.6" cy="462.7" r="2.7"/>
<circle cx="426.7" cy="463.7" r="2.7"/>
<circle cx="433.7" cy="493.4" r="2.7"/>
<circle cx="440.8" cy="449.9" r="2.7"/>
<circle cx="447.8" cy="446.8" r="2.7"/>
<circle cx="454.8" cy="445.5" r="2.7"/>
<circle cx="461.9" cy="445.5" r="2.7"/>
<circle cx="468.9" cy="445.5" r="2.7"/>
<circle cx="476.0" cy="445.5" r="2.7"/>
<circle cx="483.0" cy="445.5" r="2.7"/>
<circle cx="490.0" cy="445.5" r="2.7"/>
<circle cx="497.1" cy="445.5" r="2.7"/>
<circle cx="504.1" cy="443.7" r="2.7"/>
<circle cx="511.2" cy="443.7" r="2.7"/>
<circle cx="518.2" cy="443.7" r="2.7"/>
<circle cx="525.2" cy="443.7" r="2.7"/>
<circle cx="532.3" cy="443.7" r="2.7"/>
<circle cx="539.3" cy="443.7" r="2.7"/>
<circle cx="546.4" cy="443.7" r="2.7"/>
<circle cx="553.4" cy="444.2" r="2.7"/>
<circle cx="560.4" cy="444.2" r="2.7"/>
<circle cx="567.5" cy="444.2" r="2.7"/>
<circle cx="574.5" cy="444.2" r="2.7"/>
<circle cx="581.6" cy="445.5" r="2.7"/>
<circle cx="588.6" cy="444.2" r="2.7"/>
<circle cx="595.6" cy="444.2" r="2.7"/>
<circle cx="602.7" cy="445.5" r="2.7"/>
<circle cx="609.7" cy="444.2" r="2.7"/>
<circle cx="616.8" cy="444.2" r="2.7"/>
<circle cx="623.8" cy="444.2" r="2.7"/>
<circle cx="630.8" cy="444.2" r="2.7"/>
<circle cx="637.9" cy="445.5" r="2.7"/>
<circle cx="644.9" cy="445.5" r="2.7"/>
<circle cx="652.0" cy="445.5" r="2.7"/>
<circle cx="659.0" cy="445.5" r="2.7"/>
<circle cx="666.0" cy="445.5" r="2.7"/>
<circle cx="673.1" cy="444.2" r="2.7"/>
<circle cx="680.1" cy="444.2" r="2.7"/>
<circle cx="687.2" cy="444.2" r="2.7"/>
<circle cx="694.2" cy="444.2" r="2.7"/>
<circle cx="701.2" cy="496.7" r="2.7"/>
<circle cx="708.3" cy="496.2" r="2.7"/>
<circle cx="715.3" cy="496.2" r="2.7"/>
<circle cx="722.4" cy="496.2" r="2.7"/>
<circle cx="729.4" cy="496.7" r="2.7"/>
<circle cx="736.4" cy="496.7" r="2.7"/>
<circle cx="743.5" cy="496.2" r="2.7"/>
<circle cx="750.5" cy="496.2" r="2.7"/>
<circle cx="757.6" cy="495.5" r="2.7"/>
</g>
<polyline points="342.2,476.3 349.0,475.0 356.6,469.3 363.0,467.8 370.7,467.3 377.1,468.6 384.8,470.4 391.2,472.4 398.9,474.5 406.1,474.2 413.0,483.4 419.6,478.0 427.1,476.3 433.7,475.5 440.9,474.5 447.8,484.7 455.0,483.2 461.9,476.3 469.3,475.0 476.2,473.2 483.4,473.7 490.3,486.5 497.2,481.4 504.2,470.4 511.1,472.4 518.2,475.0 525.2,473.7 532.1,469.9 539.2,470.6 546.2,471.6 550.0,471.9 555.1,472.4 561.5,474.5 567.4,478.8 574.3,489.1 581.5,509.5 588.4,512.9 595.6,510.8 602.5,507.0 609.7,501.9 616.6,510.8 623.8,507.8 630.7,501.9 637.9,489.1 644.8,482.7 651.9,483.9 658.9,495.5 666.0,510.8 672.9,513.4 680.1,513.9 694.2,513.9 701.1,513.9 708.3,495.5 715.2,487.8 722.4,486.5 729.3,508.8 736.5,510.3 743.4,512.9 750.5,513.9 757.7,513.9" stroke="#FF9800" stroke-width="2" fill="none" stroke-linejoin="round"/>
</g>
<g clip-path="url(#cf6)">
<polyline points="342.6,601.4 349.0,593.7 356.6,560.4 363.0,565.5 370.7,569.4 377.1,580.9 384.8,573.2 391.2,582.2 398.9,592.4 406.1,589.1 413.0,590.6 419.6,596.3 427.1,595.0 433.7,604.2" stroke="#9A9A9A" stroke-width="0.9" fill="none"/>
<polyline points="342.6,529.7 349.0,546.3 356.6,543.8 363.0,533.5 370.7,545.0 377.1,568.1 384.8,563.0 391.2,563.0 398.9,570.7 406.1,571.9 413.0,596.3 419.6,604.2 440.9,604.2 447.8,595.0 455.0,592.4 461.9,591.7 469.3,594.5 476.2,591.1 483.4,589.9 490.3,591.1 504.2,592.4 518.2,592.4 532.1,592.4 539.2,591.7 546.2,588.6 550.0,586.0 560.3,579.6 567.4,570.7 574.3,551.4 581.5,550.2 588.4,573.2 595.6,591.1 602.5,598.8 609.7,591.1 616.6,586.5 623.8,586.5 630.7,588.1 637.9,588.1 644.8,591.1 651.9,593.7 658.9,596.3 666.0,597.5 672.9,597.5 680.1,597.0 694.2,597.5 701.1,600.1 708.3,602.7 729.3,601.9 736.5,600.9 750.5,601.9 757.7,602.7" stroke="#fff" stroke-width="1" fill="none"/>
<g fill="#FFB400">
<rect x="340.6" y="563.0" width="3.1" height="43.5" rx="1.5"/>
<rect x="347.7" y="568.1" width="3.1" height="38.4" rx="1.5"/>
<rect x="354.7" y="595.0" width="3.1" height="11.5" rx="1.5"/>
<rect x="389.9" y="600.1" width="3.1" height="6.4" rx="1.5"/>
<rect x="397.0" y="592.4" width="3.1" height="14.1" rx="1.5"/>
<rect x="404.0" y="598.3" width="3.1" height="8.2" rx="1.5"/>
<rect x="411.1" y="585.3" width="3.1" height="21.2" rx="1.5"/>
<rect x="418.1" y="596.3" width="3.1" height="10.2" rx="1.5"/>
<rect x="509.6" y="597.5" width="3.1" height="9.0" rx="1.5"/>
<rect x="516.7" y="581.4" width="3.1" height="25.1" rx="1.5"/>
<rect x="523.7" y="596.3" width="3.1" height="10.2" rx="1.5"/>
<rect x="544.8" y="601.9" width="3.1" height="4.6" rx="1.5"/>
<rect x="551.9" y="602.7" width="3.1" height="3.8" rx="1.5"/>
<rect x="558.9" y="597.5" width="3.1" height="9.0" rx="1.5"/>
<rect x="565.9" y="574.5" width="3.1" height="32.0" rx="1.5"/>
<rect x="573.0" y="557.9" width="3.1" height="48.6" rx="1.5"/>
<rect x="580.0" y="546.3" width="3.1" height="60.2" rx="1.5"/>
<rect x="587.1" y="541.2" width="3.1" height="65.3" rx="1.5"/>
<rect x="594.1" y="546.8" width="3.1" height="59.7" rx="1.5"/>
<rect x="601.1" y="550.2" width="3.1" height="56.3" rx="1.5"/>
<rect x="608.2" y="551.4" width="3.1" height="55.1" rx="1.5"/>
<rect x="615.2" y="547.1" width="3.1" height="59.4" rx="1.5"/>
<rect x="622.2" y="547.6" width="3.1" height="58.9" rx="1.5"/>
<rect x="629.3" y="551.4" width="3.1" height="55.1" rx="1.5"/>
<rect x="636.3" y="563.0" width="3.1" height="43.5" rx="1.5"/>
<rect x="643.4" y="573.2" width="3.1" height="33.3" rx="1.5"/>
<rect x="650.4" y="570.1" width="3.1" height="36.4" rx="1.5"/>
<rect x="657.5" y="552.2" width="3.1" height="54.3" rx="1.5"/>
<rect x="664.5" y="542.5" width="3.1" height="64.0" rx="1.5"/>
<rect x="671.5" y="541.2" width="3.1" height="65.3" rx="1.5"/>
<rect x="678.6" y="541.2" width="3.1" height="65.3" rx="1.5"/>
<rect x="685.6" y="541.2" width="3.1" height="65.3" rx="1.5"/>
<rect x="692.7" y="542.0" width="3.1" height="64.5" rx="1.5"/>
<rect x="699.7" y="539.9" width="3.1" height="66.6" rx="1.5"/>
<rect x="706.7" y="552.2" width="3.1" height="54.3" rx="1.5"/>
<rect x="713.8" y="563.0" width="3.1" height="43.5" rx="1.5"/>
<rect x="720.8" y="565.5" width="3.1" height="41.0" rx="1.5"/>
<rect x="727.9" y="550.2" width="3.1" height="56.3" rx="1.5"/>
<rect x="734.9" y="548.4" width="3.1" height="58.1" rx="1.5"/>
<rect x="741.9" y="543.0" width="3.1" height="63.5" rx="1.5"/>
<rect x="749.0" y="541.2" width="3.1" height="65.3" rx="1.5"/>
<rect x="756.0" y="540.4" width="3.1" height="66.1" rx="1.5"/>
</g></g>
<path d="M356.5,525.7V604.0M377.5,525.7V604.0M398.5,525.7V604.0M419.5,525.7V604.0M440.5,525.7V604.0M461.5,525.7V604.0M482.5,525.7V604.0M504.5,525.7V604.0M525.5,525.7V604.0M546.5,525.7V604.0M567.5,525.7V604.0M588.5,525.7V604.0M609.5,525.7V604.0M630.5,525.7V604.0M651.5,525.7V604.0M673.5,525.7V604.0M694.5,525.7V604.0M715.5,525.7V604.0M736.5,525.7V604.0M342.2,545.5H757.6M342.2,564.5H757.6M342.2,584.5H757.6" stroke="#000" stroke-width="1" stroke-dasharray="2,2" fill="none" shape-rendering="crispEdges"/>
<path d="M342.2,604.8H757.6" stroke="#87D7FF" stroke-width="0.8"/>
<rect x="342.2" y="57.0" width="415.4" height="78.1" fill="none" stroke="#000" stroke-width="1.1"/>
<rect x="342.2" y="143.3" width="415.4" height="78.2" fill="none" stroke="#000" stroke-width="1.1"/>
<rect x="342.2" y="230.4" width="415.4" height="78.0" fill="none" stroke="#000" stroke-width="1.1"/>
<rect x="342.2" y="317.0" width="415.4" height="78.1" fill="none" stroke="#000" stroke-width="1.1"/>
<rect x="342.2" y="401.7" width="415.4" height="30.3" fill="none" stroke="#000" stroke-width="1.1"/>
<rect x="342.2" y="437.6" width="415.4" height="78.9" fill="none" stroke="#000" stroke-width="1.1"/>
<rect x="342.2" y="525.7" width="415.4" height="78.3" fill="none" stroke="#000" stroke-width="1.1"/>
<text transform="translate(281.9,12.6)" font-size="13.33" text-anchor="start" fill="#000099" textLength="147.2" lengthAdjust="spacingAndGlyphs">wschód słońca: 07:47 CET</text>
<text transform="translate(284.1,25.6) scale(0.92,1)" font-size="13.33" text-anchor="start" fill="#000099">zachód słońca: 15:10 CET</text>
<text transform="translate(551.0,12.6) scale(0.92,1)" font-size="13.33" text-anchor="middle" fill="#000099">21°47'35"E, 54°6'10"N</text>
<text transform="translate(550.0,25.6) scale(0.92,1)" font-size="13.33" text-anchor="middle" fill="#000099">(x=262,  y=352)</text>
<text transform="translate(738.2,12.6) scale(0.92,1)" font-size="13.33" text-anchor="middle" fill="#000099">wysokość (min, środek, max)</text>
<text transform="translate(738.8,25.6) scale(0.92,1)" font-size="13.33" text-anchor="middle" fill="#000099">117 - 142 - 177 m</text>
<text transform="translate(307.0,54.2) scale(0.92,1)" font-size="13.33" text-anchor="start" fill="#000">CET</text>
<text transform="translate(769.8,54.2) scale(0.92,1)" font-size="13.33" text-anchor="start" fill="#000">CET</text>
<text transform="translate(355.8,54.2) scale(0.92,1)" font-size="13.33" text-anchor="middle" fill="#000">10</text>
<text transform="translate(398.0,54.2) scale(0.92,1)" font-size="13.33" text-anchor="middle" fill="#000">16</text>
<text transform="translate(440.3,54.2) scale(0.92,1)" font-size="13.33" text-anchor="middle" fill="#000">22</text>
<text transform="translate(482.5,54.2) scale(0.92,1)" font-size="13.33" text-anchor="middle" fill="#000">04</text>
<text transform="translate(524.7,54.2) scale(0.92,1)" font-size="13.33" text-anchor="middle" fill="#000">10</text>
<text transform="translate(567.0,54.2) scale(0.92,1)" font-size="13.33" text-anchor="middle" fill="#000">16</text>
<text transform="translate(609.2,54.2) scale(0.92,1)" font-size="13.33" text-anchor="middle" fill="#000">22</text>
<text transform="translate(651.5,54.2) scale(0.92,1)" font-size="13.33" text-anchor="middle" fill="#000">04</text>
<text transform="translate(693.7,54.2) scale(0.92,1)" font-size="13.33" text-anchor="middle" fill="#000">10</text>
<text transform="translate(735.9,54.2) scale(0.92,1)" font-size="13.33" text-anchor="middle" fill="#000">16</text>
<text transform="translate(378.2,41.2) scale(0.945,1)" font-size="13.33" text-anchor="middle" fill="#000">śro, 17.12</text>
<text transform="translate(546.4,41.2) scale(0.945,1)" font-size="13.33" text-anchor="middle" fill="#000">czw, 18.12</text>
<text transform="translate(715.3,41.2) scale(0.945,1)" font-size="13.33" text-anchor="middle" fill="#000">pią, 19.12</text>
<text transform="translate(306.7,617.0) scale(0.92,1)" font-size="13.33" text-anchor="start" fill="#000">UTC</text>
<text transform="translate(769.3,617.0) scale(0.92,1)" font-size="13.33" text-anchor="start" fill="#000">UTC</text>
<text transform="translate(355.9,617.0) scale(0.92,1)" font-size="13.33" text-anchor="middle" fill="#000">09</text>
<text transform="translate(398.1,617.0) scale(0.92,1)" font-size="13.33" text-anchor="middle" fill="#000">15</text>
<text transform="translate(440.4,617.0) scale(0.92,1)" font-size="13.33" text-anchor="middle" fill="#000">21</text>
<text transform="translate(482.6,617.0) scale(0.92,1)" font-size="13.33" text-anchor="middle" fill="#000">03</text>
<text transform="translate(524.8,617.0) scale(0.92,1)" font-size="13.33" text-anchor="middle" fill="#000">09</text>
<text transform="translate(567.1,617.0) scale(0.92,1)" font-size="13.33" text-anchor="middle" fill="#000">15</text>
<text transform="translate(609.3,617.0) scale(0.92,1)" font-size="13.33" text-anchor="middle" fill="#000">21</text>
<text transform="translate(651.6,617.0) scale(0.92,1)" font-size="13.33" text-anchor="middle" fill="#000">03</text>
<text transform="translate(693.8,617.0) scale(0.92,1)" font-size="13.33" text-anchor="middle" fill="#000">09</text>
<text transform="translate(736.0,617.0) scale(0.92,1)" font-size="13.33" text-anchor="middle" fill="#000">15</text>
<text transform="translate(377.6,630.2) scale(0.92,1)" font-size="13.33" text-anchor="middle" fill="#000">17.12</text>
<text transform="translate(546.0,630.2) scale(0.92,1)" font-size="13.33" text-anchor="middle" fill="#000">18.12</text>
<text transform="translate(714.9,630.2) scale(0.92,1)" font-size="13.33" text-anchor="middle" fill="#000">19.12</text>
<text transform="translate(300.7,652.6) scale(0.925,1)" font-size="14" text-anchor="start" fill="#000099">meteo@icm.edu.pl</text>
<text transform="translate(553.7,652.3) scale(0.93,1)" font-size="14" text-anchor="start" fill="#000099">© 2007-2025 ICM, Uniwersytet Warszawski</text>
<text transform="translate(337.6,66.0)" font-size="10.67" text-anchor="end" fill="#000">4</text>
<text transform="translate(337.6,80.0)" font-size="10.67" text-anchor="end" fill="#000">2</text>
<text transform="translate(337.6,94.0)" font-size="10.67" text-anchor="end" fill="#000">0</text>
<text transform="translate(337.6,108.0)" font-size="10.67" text-anchor="end" fill="#000">-2</text>
<text transform="translate(337.6,122.0)" font-size="10.67" text-anchor="end" fill="#000">-4</text>
<text transform="translate(337.6,136.0)" font-size="10.67" text-anchor="end" fill="#000">-6</text>
<text transform="translate(337.6,150.4)" font-size="10.67" text-anchor="end" fill="#000">5</text>
<text transform="translate(337.6,165.4)" font-size="10.67" text-anchor="end" fill="#000">4</text>
<text transform="translate(337.6,180.4)" font-size="10.67" text-anchor="end" fill="#000">3</text>
<text transform="translate(337.6,195.4)" font-size="10.67" text-anchor="end" fill="#000">2</text>
<text transform="translate(337.6,210.4)" font-size="10.67" text-anchor="end" fill="#000">1</text>
<text transform="translate(337.6,225.4)" font-size="10.67" text-anchor="end" fill="#000">0</text>
<text transform="translate(337.6,246.2)" font-size="10.67" text-anchor="end" fill="#000">1025</text>
<text transform="translate(337.6,266.9)" font-size="10.67" text-anchor="end" fill="#000">1020</text>
<text transform="translate(337.6,287.6)" font-size="10.67" text-anchor="end" fill="#000">1015</text>
<text transform="translate(337.6,308.3)" font-size="10.67" text-anchor="end" fill="#000">1010</text>
<text transform="translate(337.6,322.9)" font-size="10.67" text-anchor="end" fill="#000">15</text>
<text transform="translate(337.6,348.1)" font-size="10.67" text-anchor="end" fill="#000">10</text>
<text transform="translate(337.6,373.5)" font-size="10.67" text-anchor="end" fill="#000">5</text>
<text transform="translate(337.6,398.9)" font-size="10.67" text-anchor="end" fill="#000">0</text>
<text transform="translate(337.6,442.1)" font-size="10.67" text-anchor="end" fill="#000">15.0</text>
<text transform="translate(337.6,461.1)" font-size="10.67" text-anchor="end" fill="#000">7.0</text>
<text transform="translate(337.6,480.9)" font-size="10.67" text-anchor="end" fill="#000">2.0</text>
<text transform="translate(337.6,500.6)" font-size="10.67" text-anchor="end" fill="#000">0.5</text>
<text transform="translate(337.6,520.3)" font-size="10.67" text-anchor="end" fill="#000">0.0</text>
<text transform="translate(337.6,530.4)" font-size="10.67" text-anchor="end" fill="#000">8</text>
<text transform="translate(337.6,549.1)" font-size="10.67" text-anchor="end" fill="#000">6</text>
<text transform="translate(337.6,568.7)" font-size="10.67" text-anchor="end" fill="#000">4</text>
<text transform="translate(337.6,588.3)" font-size="10.67" text-anchor="end" fill="#000">2</text>
<text transform="translate(337.6,608.2)" font-size="10.67" text-anchor="end" fill="#000">0</text>
<text transform="translate(768.0,66.0)" font-size="10.67" text-anchor="middle" fill="#000">4</text>
<text transform="translate(768.0,80.0)" font-size="10.67" text-anchor="middle" fill="#000">2</text>
<text transform="translate(768.0,94.0)" font-size="10.67" text-anchor="middle" fill="#000">0</text>
<text transform="translate(766.8,108.0)" font-size="10.67" text-anchor="middle" fill="#000">-2</text>
<text transform="translate(766.8,122.0)" font-size="10.67" text-anchor="middle" fill="#000">-4</text>
<text transform="translate(766.8,136.0)" font-size="10.67" text-anchor="middle" fill="#000">-6</text>
<text transform="translate(770.4,150.4)" font-size="10.67" text-anchor="middle" fill="#E8480E">100</text>
<text transform="translate(770.4,165.4)" font-size="10.67" text-anchor="middle" fill="#E8480E">95</text>
<text transform="translate(770.4,180.4)" font-size="10.67" text-anchor="middle" fill="#E8480E">90</text>
<text transform="translate(770.4,195.4)" font-size="10.67" text-anchor="middle" fill="#E8480E">85</text>
<text transform="translate(770.4,210.4)" font-size="10.67" text-anchor="middle" fill="#E8480E">80</text>
<text transform="translate(770.4,225.4)" font-size="10.67" text-anchor="middle" fill="#E8480E">75</text>
<text transform="translate(770.1,246.6)" font-size="10.67" text-anchor="middle" fill="#000">769</text>
<text transform="translate(770.1,266.9)" font-size="10.67" text-anchor="middle" fill="#000">765</text>
<text transform="translate(770.1,287.8)" font-size="10.67" text-anchor="middle" fill="#000">761</text>
<text transform="translate(770.1,308.8)" font-size="10.67" text-anchor="middle" fill="#000">758</text>
<text transform="translate(767.3,323.2)" font-size="10.67" text-anchor="middle" fill="#000">54</text>
<text transform="translate(767.3,347.8)" font-size="10.67" text-anchor="middle" fill="#000">36</text>
<text transform="translate(767.3,373.6)" font-size="10.67" text-anchor="middle" fill="#000">18</text>
<text transform="translate(767.3,399.2)" font-size="10.67" text-anchor="middle" fill="#000">0</text>
<text transform="translate(762.3,441.5)" font-size="10.67" text-anchor="start" fill="#FF7400">100</text>
<text transform="translate(762.3,461.5)" font-size="10.67" text-anchor="start" fill="#FF7400">20</text>
<text transform="translate(762.3,480.7)" font-size="10.67" text-anchor="start" fill="#FF7400">5</text>
<text transform="translate(762.3,500.5)" font-size="10.67" text-anchor="start" fill="#FF7400">1</text>
<text transform="translate(762.3,519.7)" font-size="10.67" text-anchor="start" fill="#FF7400">0</text>
<text transform="translate(762.3,529.8)" font-size="10.67" text-anchor="start" fill="#FF7400">1</text>
<text transform="translate(762.3,549.5)" font-size="10.67" text-anchor="start" fill="#FF7400">0.75</text>
<text transform="translate(762.3,568.8)" font-size="10.67" text-anchor="start" fill="#FF7400">0.5</text>
<text transform="translate(762.3,588.2)" font-size="10.67" text-anchor="start" fill="#FF7400">0.25</text>
<text transform="translate(762.3,608.0)" font-size="10.67" text-anchor="start" fill="#FF7400">0</text>
<text transform="translate(295.0,411.0) scale(0.9,1)" font-size="12.4" text-anchor="start" fill="#000099">N</text>
<text transform="translate(283.7,419.6) scale(0.9,1)" font-size="12.4" text-anchor="start" fill="#000099">W</text>
<text transform="translate(302.4,419.6) scale(0.9,1)" font-size="12.4" text-anchor="start" fill="#000099">E</text>
<text transform="translate(295.0,428.0) scale(0.9,1)" font-size="12.4" text-anchor="start" fill="#000099">S</text>
<text transform="translate(804.3,411.0) scale(0.9,1)" font-size="12.4" text-anchor="start" fill="#000099">N</text>
<text transform="translate(793.0,419.6) scale(0.9,1)" font-size="12.4" text-anchor="start" fill="#000099">W</text>
<text transform="translate(811.7,419.6) scale(0.9,1)" font-size="12.4" text-anchor="start" fill="#000099">E</text>
<text transform="translate(804.3,428.0) scale(0.9,1)" font-size="12.4" text-anchor="start" fill="#000099">S</text>
<text transform="translate(292.7,96.4) rotate(-90) scale(0.92,1)" font-size="13.33" text-anchor="middle" fill="#000099">temperatura</text>
<text transform="translate(305.2,96.4) rotate(-90) scale(0.92,1)" font-size="13.33" text-anchor="middle" fill="#000099">(°C)</text>
<text transform="translate(292.2,185.0) rotate(-90) scale(0.92,1)" font-size="13.33" text-anchor="middle" fill="#000099">opad</text>
<text transform="translate(305.2,185.5) rotate(-90) scale(0.92,1)" font-size="13.33" text-anchor="middle" fill="#000099">(mm/h, kg/m²/h)</text>
<text transform="translate(294.6,273.2) rotate(-90) scale(0.92,1)" font-size="13.33" text-anchor="middle" fill="#000099">ciśnienie</text>
<text transform="translate(305.2,272.4) rotate(-90) scale(0.92,1)" font-size="13.33" text-anchor="middle" fill="#000099">(hPa)</text>
<text transform="translate(294.6,352.3) rotate(-90) scale(0.92,1)" font-size="13.33" text-anchor="middle" fill="#000099">wiatr</text>
<text transform="translate(305.2,352.3) rotate(-90) scale(0.92,1)" font-size="13.33" text-anchor="middle" fill="#000099">(m/s)</text>
<text transform="translate(292.4,474.5) rotate(-90) scale(0.887,1)" font-size="13.33" text-anchor="middle" fill="#000099">pion. rozciągł. chm.</text>
<text transform="translate(305.2,474.3) rotate(-90) scale(0.92,1)" font-size="13.33" text-anchor="middle" fill="#000099">(km)</text>
<text transform="translate(294.6,572.2) rotate(-90) scale(0.92,1)" font-size="13.33" text-anchor="middle" fill="#000099">zachmurzenie</text>
<text transform="translate(305.2,562.6) rotate(-90) scale(0.92,1)" font-size="13.33" text-anchor="middle" fill="#000099">(oktanty)</text>
<text transform="translate(801.6,97.0) rotate(-90) scale(0.92,1)" font-size="13.33" text-anchor="middle" fill="#000099">(°C)</text>
<text transform="translate(815.2,96.6) rotate(-90) scale(0.92,1)" font-size="13.33" text-anchor="middle" fill="#000099">temperatura</text>
<text transform="translate(801.6,185.5) rotate(-90) scale(0.92,1)" font-size="13.33" text-anchor="middle" fill="#000099">(%)</text>
<text transform="translate(815.2,185.5) rotate(-90) scale(0.92,1)" font-size="13.33" text-anchor="middle" fill="#000099">wilgotność wzgl.</text>
<text transform="translate(801.6,273.3) rotate(-90) scale(0.92,1)" font-size="13.33" text-anchor="middle" fill="#000099">(mm Hg)</text>
<text transform="translate(817.0,273.6) rotate(-90) scale(0.92,1)" font-size="13.33" text-anchor="middle" fill="#000099">ciśnienie</text>
<text transform="translate(801.6,361.5) rotate(-90) scale(0.92,1)" font-size="13.33" text-anchor="middle" fill="#000099">(km/h)</text>
<text transform="translate(817.0,361.7) rotate(-90) scale(0.92,1)" font-size="13.33" text-anchor="middle" fill="#000099">wiatr</text>
<text transform="translate(801.6,474.2) rotate(-90) scale(0.92,1)" font-size="13.33" text-anchor="middle" fill="#000099">(km)</text>
<text transform="translate(817.0,474.5) rotate(-90) scale(0.92,1)" font-size="13.33" text-anchor="middle" fill="#000099">widzialność</text>
<text transform="translate(801.6,562.6) rotate(-90) scale(0.92,1)" font-size="13.33" text-anchor="middle" fill="#000099">(frakcja)</text>
<text transform="translate(815.2,562.0) rotate(-90) scale(0.92,1)" font-size="13.33" text-anchor="middle" fill="#000099">mgła</text>
<defs>
<clipPath id="lf0"><rect x="136.0" y="58.0" width="110.1" height="76.1"/></clipPath>
<clipPath id="lf1"><rect x="136.0" y="143.5" width="110.1" height="77.0"/></clipPath>
<clipPath id="lf2"><rect x="136.0" y="229.9" width="110.1" height="76.8"/></clipPath>
<clipPath id="lf3"><rect x="136.0" y="315.7" width="110.1" height="76.5"/></clipPath>
<clipPath id="lf4"><rect x="136.0" y="398.3" width="110.1" height="31.7"/></clipPath>
<clipPath id="lf5"><rect x="136.0" y="436.0" width="110.1" height="78.2"/></clipPath>
<clipPath id="lf6"><rect x="136.0" y="523.7" width="110.1" height="77.2"/></clipPath>
</defs>
<rect x="170.1" y="30" width="61.8" height="598" fill="#EEF3FC"/>
<defs><clipPath id="lfall"><rect x="136.0" y="58.0" width="110.1" height="76.1"/><rect x="136.0" y="143.5" width="110.1" height="77.0"/><rect x="136.0" y="229.9" width="110.1" height="76.8"/><rect x="136.0" y="315.7" width="110.1" height="76.5"/><rect x="136.0" y="398.3" width="110.1" height="31.7"/><rect x="136.0" y="436.0" width="110.1" height="78.2"/><rect x="136.0" y="523.7" width="110.1" height="77.2"/></clipPath></defs>
<rect x="136.0" y="58.0" width="110.1" height="76.1" fill="#fff"/>
<rect x="136.0" y="143.5" width="110.1" height="77.0" fill="#fff"/>
<rect x="136.0" y="229.9" width="110.1" height="76.8" fill="#fff"/>
<rect x="136.0" y="315.7" width="110.1" height="76.5" fill="#fff"/>
<rect x="136.0" y="398.3" width="110.1" height="31.7" fill="#fff"/>
<rect x="136.0" y="436.0" width="110.1" height="78.2" fill="#fff"/>
<rect x="136.0" y="523.7" width="110.1" height="77.2" fill="#fff"/>
<g clip-path="url(#lf0)">
<polygon points="135.9,103.1 147.0,104.7 159.7,109.4 170.8,112.6 183.5,118.2 197.8,123.7 210.4,126.1 223.1,127.7 232.6,124.5 239.0,119.8 246.3,116.6 246.3,134.1 136,134.1" fill="#BCE3FA"/>
<polygon points="136,111.8 166,112 170.8,116.6 197.8,126 216.8,131.6 226.3,133.4 230,134.1 136,134.1" fill="#87CEFA"/>
<polygon points="135.9,87.3 147.0,92.0 159.7,97.6 170.8,101.5 183.5,105.5 197.8,107.9 210.4,109.4 226.3,111.0 232.6,111.0 246.3,105.2 246.3,116.6 239.0,119.8 232.6,124.5 223.1,127.7 210.4,126.1 197.8,123.7 183.5,118.2 170.8,112.6 159.7,109.4 147.0,104.7 135.9,103.1" fill="#FFE8DC"/>
</g>
<rect x="136.0" y="436" width="110.1" height="78.2" fill="#87D7FF"/>
<rect x="136.0" y="523.7" width="110.1" height="77.2" fill="#87D7FF"/>
<g clip-path="url(#lfall)"><rect x="170.1" y="30" width="61.8" height="598" fill="rgb(85,135,225)" fill-opacity="0.10"/></g>
<g clip-path="url(#lf1)">
<rect x="136" y="187" width="7.3" height="34.0" fill="#00A000"/>
<rect x="143" y="181" width="7.3" height="40.0" fill="#00A000"/>
<rect x="150" y="179" width="7.8" height="42.0" fill="#00A000"/>
<rect x="157.5" y="202.4" width="6.8" height="18.6" fill="#00A000"/>
<rect x="164" y="208.2" width="6.5" height="12.8" fill="#00A000"/>
<rect x="170.2" y="217.9" width="7.1" height="3.1" fill="#00A000"/>
<rect x="157.5" y="182" width="6.6" height="20.4" fill="#1030D0"/><rect x="164" y="205.1" width="6.2" height="3.1" fill="#1030D0"/>
</g>
<polygon points="136.0,260.6 143.3,259.8 150.0,254.5 157.3,249.5 164.1,249.0 170.5,245.2 178.0,248.5 184.6,251.0 191.5,253.8 225.6,253.8 232.4,257.5 239.3,261.5 246.1,265.2 246.1,306.7 136,306.7" fill="#FFFF00"/>
<clipPath id="lpc"><polygon points="136.0,260.6 143.3,259.8 150.0,254.5 157.3,249.5 164.1,249.0 170.5,245.2 178.0,248.5 184.6,251.0 191.5,253.8 225.6,253.8 232.4,257.5 239.3,261.5 246.1,265.2 246.1,306.7 136,306.7"/></clipPath>
<rect x="165" y="229.9" width="5.1" height="77" fill="#FFD800" clip-path="url(#lpc)"/>
<clipPath id="lwc"><polygon points="136.0,364.9 141.0,368.0 147.9,370.9 158.0,372.5 168.9,373.8 178.0,375.3 184.6,375.3 190.0,374.2 196.9,372.6 225.0,372.6 232.0,371.5 239.0,370.3 246.1,370.0 246.1,392.2 136,392.2"/></clipPath>
<g clip-path="url(#lwc)">
<rect x="136" y="315.7" width="12.2" height="77" fill="#10C810"/>
<rect x="147.9" y="315.7" width="21.3" height="77" fill="#007800"/>
<rect x="168.9" y="315.7" width="28.3" height="77" fill="#004488"/>
<rect x="196.9" y="315.7" width="14.5" height="77" fill="#007800"/>
<rect x="211.1" y="315.7" width="14.3" height="77" fill="#004488"/>
<rect x="225.1" y="315.7" width="14.5" height="77" fill="#007800"/>
<rect x="239.3" y="315.7" width="7.1" height="77" fill="#10C810"/>
</g>
<g clip-path="url(#lf6)">
<polygon points="165.9,588 170.1,577 175.2,566.7 181.2,563.3 186.3,559.9 190.6,551.3 195.7,544.5 199,538 205,545 205,600 165,600" fill="#fff"/>
<polygon points="193.2,575.2 194.9,551.3 197.4,530.9 205.1,534.3 210.2,527.4 215.4,523.7 246.1,523.7 246.1,601 193,601" fill="#999"/>
<polygon points="136,575.2 143.3,562.4 150.5,577 157.3,582 164.1,585.5 166.7,588 176.1,592.3 184.6,570.1 191.5,570.1 198.3,583.8 205.1,594 212,580.4 217.1,549.6 222.2,537.7 226.5,535.1 232.4,537.7 239.3,551.3 246.1,566.7 246.1,601 136,601" fill="#555"/>
<polygon points="136,595.7 149.6,591 157,594 164.1,599 170,601 136,601" fill="#2E2E2E"/>
<polyline points="164.1,600 166.7,588 170.1,577 175.2,566.7 181.2,563.3 186.3,559.9 190.6,551.3 195.7,544.5 205.1,544.5 210.2,529.1 215.4,525.4 232.4,524.9 237.6,534.3 246.1,544.5" stroke="#fff" stroke-width="0.9" fill="none"/>
<polyline points="184.6,600.9 191.5,575.2" stroke="#aaa" stroke-width="0.8" fill="none"/>
<rect x="217.0" y="589.8" width="3" height="12" fill="#FFB400"/>
<rect x="224.0" y="589.8" width="3" height="12" fill="#FFB400"/>
<rect x="230.9" y="589.8" width="3" height="12" fill="#FFB400"/>
<rect x="237.8" y="589.8" width="3" height="12" fill="#FFB400"/>
</g>
<path d="M142.5,58.0V134.1M163.5,58.0V134.1M184.5,58.0V134.1M205.5,58.0V134.1M226.5,58.0V134.1M136.0,59.5H246.1M136.0,76.5H246.1M136.0,94.5H246.1M136.0,111.5H246.1M136.0,129.5H246.1" stroke="#000" stroke-width="1" stroke-dasharray="2,2" fill="none" shape-rendering="crispEdges"/>
<path d="M142.5,143.5V220.5M163.5,143.5V220.5M184.5,143.5V220.5M205.5,143.5V220.5M226.5,143.5V220.5M136.0,150.5H246.1M136.0,168.5H246.1M136.0,185.5H246.1M136.0,203.5H246.1" stroke="#000" stroke-width="1" stroke-dasharray="2,2" fill="none" shape-rendering="crispEdges"/>
<path d="M142.5,229.9V306.7M163.5,229.9V306.7M184.5,229.9V306.7M205.5,229.9V306.7M226.5,229.9V306.7M136.0,231.5H246.1M136.0,254.5H246.1M136.0,277.5H246.1M136.0,302.5H246.1" stroke="#000" stroke-width="1" stroke-dasharray="2,2" fill="none" shape-rendering="crispEdges"/>
<path d="M142.5,315.7V392.2M163.5,315.7V392.2M184.5,315.7V392.2M205.5,315.7V392.2M226.5,315.7V392.2M136.0,334.5H246.1M136.0,354.5H246.1M136.0,373.5H246.1" stroke="#000" stroke-width="1" stroke-dasharray="2,2" fill="none" shape-rendering="crispEdges"/>
<path d="M142.5,398.3V430.0M163.5,398.3V430.0M184.5,398.3V430.0M205.5,398.3V430.0M226.5,398.3V430.0" stroke="#000" stroke-width="1" stroke-dasharray="2,2" fill="none" shape-rendering="crispEdges"/>
<path d="M142.5,436.0V514.2M163.5,436.0V514.2M184.5,436.0V514.2M205.5,436.0V514.2M226.5,436.0V514.2M136.0,456.5H246.1M136.0,474.5H246.1M136.0,494.5H246.1" stroke="#000" stroke-width="1" stroke-dasharray="2,2" fill="none" shape-rendering="crispEdges"/>
<path d="M142.5,523.7V600.9M163.5,523.7V600.9M184.5,523.7V600.9M205.5,523.7V600.9M226.5,523.7V600.9M136.0,543.5H246.1M136.0,562.5H246.1M136.0,582.5H246.1" stroke="#000" stroke-width="1" stroke-dasharray="2,2" fill="none" shape-rendering="crispEdges"/>
<path d="M142.5,70.6V84.9M149.5,78.2V97.6M156.5,87.3V99.1M163.5,96V108.7M170.5,100.7V115M177.5,103.1V118.2M184.5,106.3V121.3M191.5,107.1V123.7M198.5,107.9V126.1M205.5,108.7V129.3M212.5,109.4V130.1M219.5,110.2V130.8M226.5,111V132.4M233.5,111V132.4M240.5,105.5V120.5" stroke="#A82020" stroke-width="1" fill="none"/>
<g fill="#7B68EE">
<rect x="135.4" y="113.0" width="2.4" height="2.4"/>
<rect x="141.5" y="113.0" width="2.4" height="2.4"/>
<rect x="148.20000000000002" y="113.0" width="2.4" height="2.4"/>
<rect x="155.3" y="113.0" width="2.4" height="2.4"/>
<rect x="162.5" y="113.0" width="2.4" height="2.4"/>
<rect x="218.4" y="118.6" width="2.4" height="2.4"/>
<rect x="225.10000000000002" y="119.8" width="2.4" height="2.4"/>
</g>
<polyline points="135.9,99.1 147.0,100.7 159.7,105.5 170.8,111.0 183.5,113.4 197.8,114.2 210.4,115.0 226.3,115.0 232.6,119.0 246.3,111.4" stroke="#FF0000" stroke-width="2.2" fill="none" clip-path="url(#lf0)"/>
<polyline points="135.9,103.1 147.0,104.7 159.7,109.4 170.8,112.6 183.5,115.0 197.8,118.2 210.4,119.3 219.2,115.8 226.3,119.8 231.8,122.6 239.0,116.6 246.3,115.3" stroke="#0000FF" stroke-width="2.2" fill="none" clip-path="url(#lf0)"/>
<path d="M139.4,164.9V187M146.4,148.7V181M153.2,148.7V179" stroke="#00B000" stroke-width="1" fill="none"/>
<path d="M160.7,171.7V182" stroke="#1030D0" stroke-width="1" fill="none"/>
<rect x="145.2" y="146" width="2.6" height="2.6" fill="#FF0000"/><rect x="152" y="146" width="2.6" height="2.6" fill="#FF0000"/>
<polyline points="136.0,171.5 137.7,170.9 142.8,168.3 147.0,163.2 150.5,158.0 157.3,154.6 164.1,152.9 184.6,152.6 189.8,149.5 197.4,149.2 205.1,154.6 212.0,155.5 218.8,152.0 225.6,149.9 232.4,151.2 239.3,157.2 246.1,164.9" stroke="#D8481A" stroke-width="1.8" fill="none" stroke-linejoin="round"/>
<circle cx="139.4" cy="173.4" r="2.1" fill="#FFE000" stroke="#400" stroke-width="0.7"/>
<circle cx="146.4" cy="173.4" r="2.1" fill="#FFA500" stroke="#400" stroke-width="0.7"/>
<circle cx="153.2" cy="173.4" r="2.1" fill="#FF0000" stroke="#400" stroke-width="0.7"/>
<path d="M138,220H166" stroke="#FF0000" stroke-width="1.2" stroke-dasharray="3,2.5" fill="none"/>
<polyline points="136.0,260.6 143.3,259.8 150.0,254.5 157.3,249.5 164.1,249.0 170.5,245.2 178.0,248.5 184.6,251.0 191.5,253.8 225.6,253.8 232.4,257.5 239.3,261.5 246.1,265.2" stroke="#000" stroke-width="2" fill="none" stroke-linejoin="round"/>
<path d="M148,348.5H161.6M162.4,351.5H170M170,355.5H177M177,358.5H184.6M184.6,354.5H189.4M190.6,351.5H197.4M197.4,350.5H211.6M211.6,351.5H225.1M225.1,347.5H232.4M232.4,343.5H239.3M239.3,341.5H246.1M136,345.5L149,340.3" stroke="#FF0000" stroke-width="1" fill="none"/>
<polyline points="136.0,364.9 141.0,368.0 147.9,370.9 158.0,372.5 168.9,373.8 178.0,375.3 184.6,375.3 190.0,374.2 196.9,372.6 225.0,372.6 232.0,371.5 239.0,370.3 246.1,370.0" stroke="#00009C" stroke-width="2" fill="none" stroke-linejoin="round"/>
<path d="M137,316.5h3l-1.5,3.5z" fill="#FF0000"/>
<g fill="#00009C" stroke="#00009C">
<path d="M133.8,404.6L139.8,418.5" stroke-width="1.1" fill="none"/><path d="M141.6,423.2L136.4,419.2L142.4,416.2Z" stroke="none"/>
<path d="M139.8,404.6L145.8,418.5" stroke-width="1.1" fill="none"/><path d="M147.6,423.2L142.4,419.2L148.4,416.2Z" stroke="none"/>
<path d="M145.8,404.6L151.8,418.5" stroke-width="1.1" fill="none"/><path d="M153.6,423.2L148.4,419.2L154.4,416.2Z" stroke="none"/>
<path d="M151.8,404.6L157.8,418.5" stroke-width="1.1" fill="none"/><path d="M159.6,423.2L154.4,419.2L160.4,416.2Z" stroke="none"/>
<path d="M158.7,404.6L164.7,418.5" stroke-width="1.1" fill="none"/><path d="M166.5,423.2L161.3,419.2L167.3,416.2Z" stroke="none"/>
<path d="M165.5,404.6L171.5,418.5" stroke-width="1.1" fill="none"/><path d="M173.3,423.2L168.1,419.2L174.1,416.2Z" stroke="none"/>
<path d="M172.3,404.6L178.3,418.5" stroke-width="1.1" fill="none"/><path d="M180.1,423.2L174.9,419.2L180.9,416.2Z" stroke="none"/>
<path d="M178.3,404.6L184.3,418.5" stroke-width="1.1" fill="none"/><path d="M186.1,423.2L180.9,419.2L186.9,416.2Z" stroke="none"/>
<path d="M185.1,404.6L191.1,418.5" stroke-width="1.1" fill="none"/><path d="M192.9,423.2L187.7,419.2L193.7,416.2Z" stroke="none"/>
<path d="M191.9,404.6L197.9,418.5" stroke-width="1.1" fill="none"/><path d="M199.7,423.2L194.5,419.2L200.5,416.2Z" stroke="none"/>
<path d="M198.8,404.6L204.8,418.5" stroke-width="1.1" fill="none"/><path d="M206.6,423.2L201.4,419.2L207.4,416.2Z" stroke="none"/>
<path d="M206.5,404.6L212.5,418.5" stroke-width="1.1" fill="none"/><path d="M214.3,423.2L209.1,419.2L215.1,416.2Z" stroke="none"/>
<path d="M213.3,404.6L219.3,418.5" stroke-width="1.1" fill="none"/><path d="M221.1,423.2L215.9,419.2L221.9,416.2Z" stroke="none"/>
<path d="M220.1,404.6L226.1,418.5" stroke-width="1.1" fill="none"/><path d="M227.9,423.2L222.7,419.2L228.7,416.2Z" stroke="none"/>
<path d="M226.9,404.6L232.9,418.5" stroke-width="1.1" fill="none"/><path d="M234.7,423.2L229.5,419.2L235.5,416.2Z" stroke="none"/>
<path d="M233.8,404.6L239.8,418.5" stroke-width="1.1" fill="none"/><path d="M241.6,423.2L236.4,419.2L242.4,416.2Z" stroke="none"/>
<path d="M241.5,404.6L247.5,418.5" stroke-width="1.1" fill="none"/><path d="M249.3,423.2L244.1,419.2L250.1,416.2Z" stroke="none"/>
</g>
<g clip-path="url(#lf5)">
<g fill="#5A5A5A"><circle cx="150.5" cy="492.7" r="2.3"/><circle cx="157.5" cy="492.7" r="2.3"/><circle cx="164.5" cy="492.7" r="2.3"/><circle cx="143.5" cy="481.5" r="2.3"/><circle cx="184.6" cy="500" r="2.3"/><circle cx="191.5" cy="489.5" r="2.3"/><circle cx="218.8" cy="489" r="2.3"/><circle cx="232.5" cy="500.5" r="2.3"/><circle cx="212" cy="485" r="2.3"/><circle cx="246" cy="489" r="2.3"/></g>
<g fill="#C8C8C8"><circle cx="170.5" cy="489" r="2.3"/><circle cx="177.5" cy="489" r="2.3"/><circle cx="198.3" cy="487" r="2.3"/><circle cx="212" cy="491" r="2.3"/><circle cx="218.5" cy="500.5" r="2.3"/><circle cx="225.5" cy="500.5" r="2.3"/><circle cx="239.5" cy="500.5" r="2.3"/><circle cx="239.5" cy="493" r="2.3"/></g>
<g fill="#fff"><circle cx="150.5" cy="500" r="2.3"/><circle cx="164.5" cy="499.5" r="2.3"/><circle cx="170.5" cy="493.5" r="2.3"/><circle cx="177.5" cy="493.5" r="2.3"/><circle cx="198.3" cy="492.5" r="2.3"/><circle cx="205" cy="493" r="2.3"/><circle cx="191.5" cy="500.5" r="2.3"/><circle cx="184.6" cy="509.5" r="2.3"/><circle cx="218.5" cy="509.5" r="2.3"/><circle cx="225.5" cy="509.5" r="2.3"/><circle cx="232.5" cy="509.5" r="2.3"/><circle cx="239.5" cy="509.5" r="2.3"/><circle cx="143.5" cy="505" r="2.3"/><circle cx="246" cy="501" r="2.3"/></g>
<g fill="#888"><circle cx="143.5" cy="505" r="1.0"/></g>
<g fill="#444"><circle cx="184.6" cy="509.5" r="0.9"/></g>
<g fill="#000"><circle cx="191.5" cy="456.3" r="2.3"/><circle cx="198.3" cy="464.5" r="2.3"/><circle cx="205" cy="468.5" r="2.3"/><circle cx="211.5" cy="470" r="2.3"/><circle cx="218.5" cy="481.5" r="2.3"/><circle cx="225.5" cy="485" r="2.3"/><circle cx="232.5" cy="489.5" r="2.3"/><circle cx="239.5" cy="481.5" r="2.3"/><circle cx="246.3" cy="476.5" r="2.3"/><circle cx="184.6" cy="489.5" r="2.3"/></g>
<polyline points="136.0,471.0 143.0,470.5 150.0,466.0 157.0,464.5 164.0,463.5 178.0,463.5 185.0,466.5 192.0,470.0 205.0,471.0 212.0,473.0 219.0,475.0 226.0,475.0 233.0,474.0 240.0,471.5 246.0,470.0" stroke="#FF9800" stroke-width="2" fill="none" stroke-linejoin="round"/>
<g fill="#A82424"><circle cx="170.5" cy="449.6" r="2.4"/><circle cx="177.5" cy="449.6" r="2.4"/><circle cx="184.5" cy="449.6" r="2.4"/><circle cx="191.5" cy="449.6" r="2.4"/><circle cx="198.4" cy="451.5" r="2.4"/><circle cx="205.5" cy="449.6" r="2.4"/><circle cx="212.5" cy="449.6" r="2.4"/><circle cx="219.5" cy="449.6" r="2.4"/><circle cx="226.5" cy="449.6" r="2.4"/><circle cx="233.5" cy="449.6" r="2.4"/><circle cx="240.5" cy="449.6" r="2.4"/><circle cx="247.5" cy="449.6" r="2.4"/><circle cx="150.5" cy="458.5" r="2.4"/><circle cx="157.5" cy="458.5" r="2.4"/><circle cx="164.5" cy="458.5" r="2.4"/><circle cx="137" cy="474.9" r="2.4"/><circle cx="143.5" cy="474.9" r="2.4"/></g>
</g>
<rect x="136.0" y="58.0" width="110.1" height="76.1" fill="none" stroke="#000" stroke-width="1.1"/>
<rect x="136.0" y="143.5" width="110.1" height="77.0" fill="none" stroke="#000" stroke-width="1.1"/>
<rect x="136.0" y="229.9" width="110.1" height="76.8" fill="none" stroke="#000" stroke-width="1.1"/>
<rect x="136.0" y="315.7" width="110.1" height="76.5" fill="none" stroke="#000" stroke-width="1.1"/>
<rect x="136.0" y="398.3" width="110.1" height="31.7" fill="none" stroke="#000" stroke-width="1.1"/>
<rect x="136.0" y="436.0" width="110.1" height="78.2" fill="none" stroke="#000" stroke-width="1.1"/>
<rect x="136.0" y="523.7" width="110.1" height="77.2" fill="none" stroke="#000" stroke-width="1.1"/>
<path d="M68,16.5H133L157,46" stroke="#000" stroke-width="1" fill="none"/>
<path d="M102,44.3H119.5L149.4,82.5" stroke="#A82020" stroke-width="1" fill="none"/>
<path d="M92.5,76.5H114.5M130,76.3H133L151.8,97.6" stroke="#FF0000" stroke-width="1" fill="none"/>
<path d="M70.5,98.9H129L136,103" stroke="#0000FF" stroke-width="1" fill="none"/>
<path d="M95.3,120.5H130L135,118.5L142.7,113.6" stroke="#6A5ACD" stroke-width="1" fill="none"/>
<path d="M103.5,137.3H141L146.4,146" stroke="#FF0000" stroke-width="1" fill="none"/>
<path d="M106,151H112M130.6,150.5L146,161" stroke="#E8501A" stroke-width="1" fill="none"/>
<path d="M94.4,165.7H112.7M129.5,165.5L133,168L137.5,173" stroke="#000" stroke-width="1" fill="none"/>
<path d="M71.4,179.4H139.4" stroke="#00B000" stroke-width="1" fill="none"/>
<path d="M80.2,190H137" stroke="#00B000" stroke-width="1" fill="none"/>
<path d="M70,202.4H111.8M129.5,202.4L133,201L160.7,171.7" stroke="#1030D0" stroke-width="1" fill="none"/>
<path d="M81.6,213.3H131.5L157.5,182.5" stroke="#1030D0" stroke-width="1" fill="none"/>
<path d="M97.3,225.3H143L148,220" stroke="#FF0000" stroke-width="1" fill="none"/>
<path d="M51.2,264.5H130.6L136,262.5" stroke="#000" stroke-width="1" fill="none"/>
<path d="M111.8,334.1H117.8M129.5,334L133,330L138.5,318" stroke="#FF0000" stroke-width="1" fill="none"/>
<path d="M107.2,348.3H131.5L138,345" stroke="#FF0000" stroke-width="1" fill="none"/>
<path d="M92.2,367.4H136" stroke="#00009C" stroke-width="1" fill="none"/>
<path d="M86.2,410.4H141" stroke="#00009C" stroke-width="1" fill="none"/>
<path d="M100.4,430.3H133.2L140,433L186,449" stroke="#A82020" stroke-width="1" fill="none"/>
<path d="M57.2,468.8H133L191,456.5" stroke="#000" stroke-width="1" fill="none"/>
<path d="M57.2,480.4H143.5" stroke="#444" stroke-width="1" fill="none"/>
<path d="M57.2,490.6H131.5L137,496L142,500" stroke="#999" stroke-width="1" fill="none"/>
<path d="M57.2,500.5H131.5L137,505" stroke="#D8D0C0" stroke-width="1" fill="none"/>
<path d="M57.2,509.3H136M57.2,512H136" stroke="#87CEFA" stroke-width="1" fill="none"/>
<path d="M67.4,527.1H129.8L138,514L178,463.5" stroke="#FF8000" stroke-width="1" fill="none"/>
<path d="M54.3,556H190M54.3,558.6H190" stroke="#87CEFA" stroke-width="1" fill="none"/>
<path d="M49.5,571H196" stroke="#666" stroke-width="1" fill="none"/>
<path d="M40.1,582.4H122M130.6,582.4H150" stroke="#333" stroke-width="1" fill="none"/>
<path d="M74.3,594H150" stroke="#000" stroke-width="1" fill="none"/>
<path d="M30,605.5H216.8L218,600" stroke="#FFB400" stroke-width="1" fill="none"/>
<path d="M140,623.5H148.5L157,610" stroke="#000" stroke-width="1" fill="none"/>
<text transform="translate(128.3,63.0)" font-size="10.5" text-anchor="end" fill="#000">30</text>
<text transform="translate(128.3,80.6)" font-size="10.5" text-anchor="end" fill="#000">20</text>
<text transform="translate(128.3,98.2)" font-size="10.5" text-anchor="end" fill="#000">10</text>
<text transform="translate(128.3,115.2)" font-size="10.5" text-anchor="end" fill="#000">0</text>
<text transform="translate(128.3,132.8)" font-size="10.5" text-anchor="end" fill="#000">-10</text>
<text transform="translate(128.3,154.0)" font-size="10.5" text-anchor="end" fill="#000">2.0</text>
<text transform="translate(128.3,171.2)" font-size="10.5" text-anchor="end" fill="#000">1.5</text>
<text transform="translate(128.3,189.0)" font-size="10.5" text-anchor="end" fill="#000">1.0</text>
<text transform="translate(128.3,206.8)" font-size="10.5" text-anchor="end" fill="#000">0.5</text>
<text transform="translate(128.3,223.2)" font-size="10.5" text-anchor="end" fill="#000">0.0</text>
<text transform="translate(128.3,234.5)" font-size="10.5" text-anchor="end" fill="#000">1018</text>
<text transform="translate(128.3,257.6)" font-size="10.5" text-anchor="end" fill="#000">1016</text>
<text transform="translate(128.3,281.8)" font-size="10.5" text-anchor="end" fill="#000">1014</text>
<text transform="translate(128.3,304.6)" font-size="10.5" text-anchor="end" fill="#000">1012</text>
<text transform="translate(128.3,318.8)" font-size="10.5" text-anchor="end" fill="#000">20</text>
<text transform="translate(128.3,337.8)" font-size="10.5" text-anchor="end" fill="#000">15</text>
<text transform="translate(128.3,357.6)" font-size="10.5" text-anchor="end" fill="#000">10</text>
<text transform="translate(128.3,376.8)" font-size="10.5" text-anchor="end" fill="#000">5</text>
<text transform="translate(128.3,395.2)" font-size="10.5" text-anchor="end" fill="#000">0</text>
<text transform="translate(128.3,440.0)" font-size="10.5" text-anchor="end" fill="#000">15.0</text>
<text transform="translate(128.3,460.2)" font-size="10.5" text-anchor="end" fill="#000">7.0</text>
<text transform="translate(128.3,479.0)" font-size="10.5" text-anchor="end" fill="#000">2.0</text>
<text transform="translate(128.3,498.6)" font-size="10.5" text-anchor="end" fill="#000">0.5</text>
<text transform="translate(128.3,517.6)" font-size="10.5" text-anchor="end" fill="#000">0.0</text>
<text transform="translate(128.3,526.8)" font-size="10.5" text-anchor="end" fill="#000">8</text>
<text transform="translate(128.3,546.6)" font-size="10.5" text-anchor="end" fill="#000">6</text>
<text transform="translate(128.3,565.6)" font-size="10.5" text-anchor="end" fill="#000">4</text>
<text transform="translate(128.3,585.4)" font-size="10.5" text-anchor="end" fill="#000">2</text>
<text transform="translate(128.3,604.6)" font-size="10.5" text-anchor="end" fill="#000">0</text>
<text transform="translate(254.0,63.0)" font-size="10.5" text-anchor="start" fill="#000">30</text>
<text transform="translate(254.0,80.6)" font-size="10.5" text-anchor="start" fill="#000">20</text>
<text transform="translate(254.0,98.2)" font-size="10.5" text-anchor="start" fill="#000">10</text>
<text transform="translate(260.5,115.2)" font-size="10.5" text-anchor="start" fill="#000">0</text>
<text transform="translate(250.2,132.8)" font-size="10.5" text-anchor="start" fill="#000">-10</text>
<text transform="translate(253.3,154.3)" font-size="10.5" text-anchor="start" fill="#E8480E">96</text>
<text transform="translate(253.3,172.4)" font-size="10.5" text-anchor="start" fill="#E8480E">84</text>
<text transform="translate(253.3,189.3)" font-size="10.5" text-anchor="start" fill="#E8480E">73</text>
<text transform="translate(253.3,207.2)" font-size="10.5" text-anchor="start" fill="#E8480E">61</text>
<text transform="translate(253.3,224.0)" font-size="10.5" text-anchor="start" fill="#E8480E">50</text>
<text transform="translate(250.5,235.4)" font-size="10.5" text-anchor="start" fill="#000">1018</text>
<text transform="translate(250.5,258.4)" font-size="10.5" text-anchor="start" fill="#000">1016</text>
<text transform="translate(250.5,281.8)" font-size="10.5" text-anchor="start" fill="#000">1014</text>
<text transform="translate(250.5,305.3)" font-size="10.5" text-anchor="start" fill="#000">1012</text>
<text transform="translate(251.0,319.0)" font-size="10.5" text-anchor="start" fill="#000">72</text>
<text transform="translate(251.0,338.6)" font-size="10.5" text-anchor="start" fill="#000">54</text>
<text transform="translate(251.0,358.2)" font-size="10.5" text-anchor="start" fill="#000">36</text>
<text transform="translate(251.0,377.0)" font-size="10.5" text-anchor="start" fill="#000">18</text>
<text transform="translate(254.0,396.0)" font-size="10.5" text-anchor="start" fill="#000">0</text>
<text transform="translate(251.3,440.5)" font-size="10.5" text-anchor="start" fill="#FF7400">100</text>
<text transform="translate(251.3,460.4)" font-size="10.5" text-anchor="start" fill="#FF7400">20</text>
<text transform="translate(251.3,479.0)" font-size="10.5" text-anchor="start" fill="#FF7400">5</text>
<text transform="translate(251.3,498.6)" font-size="10.5" text-anchor="start" fill="#FF7400">1</text>
<text transform="translate(251.3,518.0)" font-size="10.5" text-anchor="start" fill="#FF7400">0</text>
<text transform="translate(251.3,526.9)" font-size="10.5" text-anchor="start" fill="#FF7400">1</text>
<text transform="translate(251.3,546.4)" font-size="10.5" text-anchor="start" fill="#FF7400">0.75</text>
<text transform="translate(251.3,565.7)" font-size="10.5" text-anchor="start" fill="#FF7400">0.5</text>
<text transform="translate(251.3,585.6)" font-size="10.5" text-anchor="start" fill="#FF7400">0.25</text>
<text transform="translate(251.3,604.4)" font-size="10.5" text-anchor="start" fill="#FF7400">0</text>
<text transform="translate(164.0,51.2)" font-size="12.4" text-anchor="middle" fill="#000">20</text>
<text transform="translate(204.2,51.2)" font-size="12.4" text-anchor="middle" fill="#000">02</text>
<text transform="translate(244.8,51.2)" font-size="12.4" text-anchor="middle" fill="#000">08</text>
<text transform="translate(163.4,614.8)" font-size="12.4" text-anchor="middle" fill="#000">18</text>
<text transform="translate(204.4,614.8)" font-size="12.4" text-anchor="middle" fill="#000">00</text>
<text transform="translate(245.4,614.8)" font-size="12.4" text-anchor="middle" fill="#000">06</text>
<text transform="translate(5.6,17.9)" font-size="10.67" text-anchor="start" fill="#000" textLength="59.8" lengthAdjust="spacingAndGlyphs">Czas lokalny</text>
<text transform="translate(5.6,29.6)" font-size="10.67" text-anchor="start" fill="#000" textLength="55.5" lengthAdjust="spacingAndGlyphs">(CET/CEST)</text>
<text transform="translate(6.1,45.8)" font-size="10.67" text-anchor="start" fill="#A82020" textLength="93.4" lengthAdjust="spacingAndGlyphs">Temperatura gruntu</text>
<text transform="translate(27.3,56.6)" font-size="10.67" text-anchor="start" fill="#A82020" textLength="39.4" lengthAdjust="spacingAndGlyphs">max/min</text>
<text transform="translate(5.6,68.4)" font-size="10.67" text-anchor="start" fill="#000" textLength="62.3" lengthAdjust="spacingAndGlyphs">Temperatura:</text>
<text transform="translate(12.4,80.2)" font-size="10.67" text-anchor="start" fill="#FF0000" textLength="77.7" lengthAdjust="spacingAndGlyphs">punkt środkowy</text>
<text transform="translate(27.3,90.6)" font-size="10.67" text-anchor="start" fill="#FFD8CC" textLength="39.4" lengthAdjust="spacingAndGlyphs">max/min</text>
<text transform="translate(9.5,102.2)" font-size="10.67" text-anchor="start" fill="#0000FF" textLength="57.9" lengthAdjust="spacingAndGlyphs">odczuwana</text>
<text transform="translate(27.3,111.3)" font-size="10.67" text-anchor="start" fill="#B0DCFA" textLength="39.4" lengthAdjust="spacingAndGlyphs">max/min</text>
<text transform="translate(6.1,123.2)" font-size="10.67" text-anchor="start" fill="#6A5ACD" textLength="87.4" lengthAdjust="spacingAndGlyphs">Temp. punktu rosy</text>
<text transform="translate(6.1,141.0)" font-size="10.67" text-anchor="start" fill="#FF0000" textLength="94.8" lengthAdjust="spacingAndGlyphs">Opad powyżej skali</text>
<text transform="translate(6.1,154.3)" font-size="10.67" text-anchor="start" fill="#E8501A" textLength="97.7" lengthAdjust="spacingAndGlyphs">Wilgotność względna</text>
<text transform="translate(6.1,168.8)" font-size="10.67" text-anchor="start" fill="#000" textLength="84.9" lengthAdjust="spacingAndGlyphs">Wystąpienie burzy</text>
<text transform="translate(6.1,182.5)" font-size="10.67" text-anchor="start" fill="#00A000" textLength="39.6" lengthAdjust="spacingAndGlyphs">Deszcz:</text>
<text transform="translate(48.8,182.5)" font-size="10.67" text-anchor="start" fill="#00A000" textLength="20.8" lengthAdjust="spacingAndGlyphs">max</text>
<text transform="translate(48.8,193.6)" font-size="10.67" text-anchor="start" fill="#00A000" textLength="30.2" lengthAdjust="spacingAndGlyphs">średni</text>
<text transform="translate(6.1,204.1)" font-size="10.67" text-anchor="start" fill="#1030D0" textLength="29.9" lengthAdjust="spacingAndGlyphs">Śnieg:</text>
<text transform="translate(48.8,204.1)" font-size="10.67" text-anchor="start" fill="#1030D0" textLength="20.0" lengthAdjust="spacingAndGlyphs">max</text>
<text transform="translate(48.8,215.4)" font-size="10.67" text-anchor="start" fill="#1030D0" textLength="30.2" lengthAdjust="spacingAndGlyphs">średni</text>
<text transform="translate(5.1,227.3)" font-size="10.67" text-anchor="start" fill="#FF0000" textLength="89.3" lengthAdjust="spacingAndGlyphs">Wystąpienie opadu</text>
<text transform="translate(5.1,241.0)" font-size="10.67" text-anchor="start" fill="#FF0000" textLength="72.6" lengthAdjust="spacingAndGlyphs">konwekcyjnego</text>
<text transform="translate(4.6,266.2)" font-size="10.67" text-anchor="start" fill="#000" textLength="42.9" lengthAdjust="spacingAndGlyphs">Ciśnienie</text>
<text transform="translate(4.6,280.2)" font-size="10.67" text-anchor="start" fill="#000" textLength="66.8" lengthAdjust="spacingAndGlyphs">zredukowane</text>
<text transform="translate(4.6,293.2)" font-size="10.67" text-anchor="start" fill="#000" textLength="88.1" lengthAdjust="spacingAndGlyphs">do poziomu morza</text>
<text transform="translate(4.7,322.0)" font-size="10.67" text-anchor="start" fill="#000" textLength="41.0" lengthAdjust="spacingAndGlyphs">Wiatr na</text>
<text transform="translate(49.2,322.0)" font-size="11.5" text-anchor="start" fill="#000" font-family="Liberation Serif, sans-serif" textLength="9.0" lengthAdjust="spacingAndGlyphs">10</text>
<text transform="translate(58.5,322.0)" font-size="10.67" text-anchor="start" fill="#000" textLength="12.3" lengthAdjust="spacingAndGlyphs">m:</text>
<text transform="translate(9.5,337.6)" font-size="10.67" text-anchor="start" fill="#FF0000" textLength="101.1" lengthAdjust="spacingAndGlyphs">poryw powyżej skali</text>
<text transform="translate(9.5,351.2)" font-size="10.67" text-anchor="start" fill="#FF0000" textLength="95.1" lengthAdjust="spacingAndGlyphs">max porywy wiatru</text>
<text transform="translate(9.5,371.4)" font-size="10.67" text-anchor="start" fill="#00009C" textLength="79.4" lengthAdjust="spacingAndGlyphs">prędkość wiatru</text>
<text transform="translate(9.5,384.5)" font-size="10.67" text-anchor="start" fill="#00009C" textLength="89.2" lengthAdjust="spacingAndGlyphs">w środku obszaru</text>
<text transform="translate(9.5,412.6)" font-size="10.67" text-anchor="start" fill="#00009C" textLength="74.3" lengthAdjust="spacingAndGlyphs">kierunek wiatru</text>
<text transform="translate(6.1,432.6)" font-size="10.67" text-anchor="start" fill="#A82020" textLength="90.9" lengthAdjust="spacingAndGlyphs">Wierzchołek chmur</text>
<text transform="translate(5.1,447.9)" font-size="10.67" text-anchor="start" fill="#000" textLength="86.7" lengthAdjust="spacingAndGlyphs">Podstawa chmur*</text>
<text transform="translate(5.1,459.0)" font-size="10.67" text-anchor="start" fill="#000" textLength="48.7" lengthAdjust="spacingAndGlyphs">o pokryciu</text>
<text transform="translate(10.2,471.5)" font-size="10.67" text-anchor="start" fill="#000" textLength="44.6" lengthAdjust="spacingAndGlyphs">&gt; 7.9 okt.</text>
<text transform="translate(10.2,482.4)" font-size="10.67" text-anchor="start" fill="#444" textLength="44.6" lengthAdjust="spacingAndGlyphs">&gt; 6.5 okt.</text>
<text transform="translate(10.2,493.7)" font-size="10.67" text-anchor="start" fill="#999" textLength="44.6" lengthAdjust="spacingAndGlyphs">&gt; 4.5 okt.</text>
<text transform="translate(10.2,503.6)" font-size="10.67" text-anchor="start" fill="#D8D4CC" textLength="44.6" lengthAdjust="spacingAndGlyphs">&gt; 2.5 okt.</text>
<rect x="11.1" y="505.2" width="43.9" height="11.1" fill="#87CEFA"/>
<text transform="translate(10.2,514.2)" font-size="10.67" text-anchor="start" fill="#fff" textLength="44.6" lengthAdjust="spacingAndGlyphs">&gt; 0.1 okt.</text>
<text transform="translate(6.1,529.1)" font-size="10.67" text-anchor="start" fill="#FF8000" textLength="57.2" lengthAdjust="spacingAndGlyphs">Widzialność</text>
<text transform="translate(5.1,547.0)" font-size="10.67" text-anchor="start" fill="#000" textLength="39.4" lengthAdjust="spacingAndGlyphs">Chmury:</text>
<rect x="10.2" y="551.3" width="40.7" height="11.1" fill="#87CEFA"/>
<text transform="translate(11.1,559.9)" font-size="10.67" text-anchor="start" fill="#fff" textLength="39.9" lengthAdjust="spacingAndGlyphs">wysokie</text>
<text transform="translate(9.8,573.0)" font-size="10.67" text-anchor="start" fill="#999" textLength="35.9" lengthAdjust="spacingAndGlyphs">średnie</text>
<text transform="translate(9.8,585.2)" font-size="10.67" text-anchor="start" fill="#333" textLength="26.6" lengthAdjust="spacingAndGlyphs">niskie</text>
<text transform="translate(9.8,596.8)" font-size="10.67" text-anchor="start" fill="#000" textLength="61.6" lengthAdjust="spacingAndGlyphs">bardzo niskie</text>
<text transform="translate(5.7,608.3)" font-size="10.67" text-anchor="start" fill="#FFB400" textLength="20.4" lengthAdjust="spacingAndGlyphs">Mgła</text>
<text transform="translate(5.4,625.8)" font-size="10.67" text-anchor="start" fill="#000" textLength="131.7" lengthAdjust="spacingAndGlyphs">Czas uniwersalny (UTC)</text>
<text transform="translate(4.8,650.8)" font-size="10" text-anchor="start" fill="#000" textLength="4.5" lengthAdjust="spacingAndGlyphs">*</text>
<text transform="translate(11.6,650.8)" font-size="9.6" text-anchor="start" fill="#000" textLength="97.2" lengthAdjust="spacingAndGlyphs" font-weight="600">powyżej poziomu morza</text>
<rect x="5" y="0" width="1.2" height="2" fill="#000"/>
</svg>
</body></html>
